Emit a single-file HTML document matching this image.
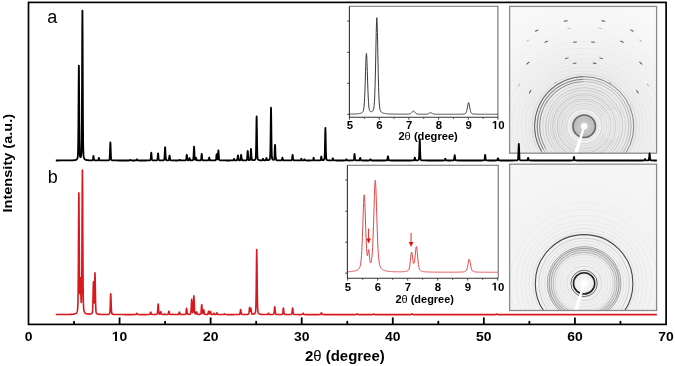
<!DOCTYPE html>
<html><head><meta charset="utf-8"><style>
html,body{margin:0;padding:0;background:#fff;}
body{width:675px;height:366px;overflow:hidden;}
svg{display:block;will-change:transform;font-family:"Liberation Sans",sans-serif;}
.ax{fill:none;stroke:#000;stroke-width:1.7;}
.tk line{stroke:#000;stroke-width:1.8;}
.tl{fill:#000;}
.ifr{fill:none;stroke:#4a4a4a;stroke-width:1;}
.itk{fill:none;stroke:#333;stroke-width:0.9;}
.itl{font-weight:bold;font-size:11.4px;text-anchor:middle;fill:#000;}
</style></head><body>
<svg width="675" height="366" viewBox="0 0 675 366">
<defs>
<radialGradient id="gU" cx="584.2" cy="126.2" r="150" gradientUnits="userSpaceOnUse">
<stop offset="0" stop-color="#e4e4e4"/><stop offset="0.35" stop-color="#ececec"/><stop offset="0.7" stop-color="#f6f6f6"/><stop offset="1" stop-color="#fbfbfb"/>
</radialGradient>
<radialGradient id="gL" cx="584.1" cy="283.4" r="150" gradientUnits="userSpaceOnUse">
<stop offset="0" stop-color="#eeeeee"/><stop offset="0.4" stop-color="#f2f2f2"/><stop offset="1" stop-color="#f7f7f7"/>
</radialGradient>
<radialGradient id="gD" cx="0.5" cy="0.5" r="0.5">
<stop offset="0" stop-color="#fff"/><stop offset="0.2" stop-color="#eaeaea"/><stop offset="0.4" stop-color="#c8c8c8"/><stop offset="1" stop-color="#bababa"/>
</radialGradient>
<radialGradient id="gD2" cx="0.5" cy="0.5" r="0.5">
<stop offset="0" stop-color="#fff"/><stop offset="0.35" stop-color="#f6f6f6"/><stop offset="1" stop-color="#ececec"/>
</radialGradient>
<clipPath id="cU"><rect x="509.6" y="6.4" width="147" height="146.8"/></clipPath>
<clipPath id="cL"><rect x="509.6" y="164.2" width="147" height="146.3"/></clipPath>
</defs>
<rect x="0" y="0" width="675" height="366" fill="#fff"/>
<g clip-path="url(#cU)">
<rect x="509.6" y="6.4" width="147" height="146.8" fill="url(#gU)"/>
<circle cx="584.2" cy="126.2" r="14.8" fill="none" stroke="#3a3a3a" stroke-opacity="0.10" stroke-width="0.8"/>
<circle cx="584.2" cy="126.2" r="17.5" fill="none" stroke="#3a3a3a" stroke-opacity="0.14" stroke-width="0.8"/>
<circle cx="584.2" cy="126.2" r="20.0" fill="none" stroke="#3a3a3a" stroke-opacity="0.10" stroke-width="0.8"/>
<circle cx="584.2" cy="126.2" r="22.5" fill="none" stroke="#3a3a3a" stroke-opacity="0.16" stroke-width="0.8"/>
<circle cx="584.2" cy="126.2" r="25.0" fill="none" stroke="#3a3a3a" stroke-opacity="0.12" stroke-width="0.8"/>
<circle cx="584.2" cy="126.2" r="27.0" fill="none" stroke="#3a3a3a" stroke-opacity="0.22" stroke-width="0.9"/>
<circle cx="584.2" cy="126.2" r="29.5" fill="none" stroke="#3a3a3a" stroke-opacity="0.14" stroke-width="0.8"/>
<circle cx="584.2" cy="126.2" r="31.5" fill="none" stroke="#3a3a3a" stroke-opacity="0.24" stroke-width="0.9"/>
<circle cx="584.2" cy="126.2" r="33.5" fill="none" stroke="#3a3a3a" stroke-opacity="0.14" stroke-width="0.8"/>
<circle cx="584.2" cy="126.2" r="36.0" fill="none" stroke="#3a3a3a" stroke-opacity="0.20" stroke-width="0.8"/>
<circle cx="584.2" cy="126.2" r="38.5" fill="none" stroke="#3a3a3a" stroke-opacity="0.22" stroke-width="0.9"/>
<circle cx="584.2" cy="126.2" r="41.5" fill="none" stroke="#3a3a3a" stroke-opacity="0.16" stroke-width="0.8"/>
<circle cx="584.2" cy="126.2" r="44.6" fill="none" stroke="#3a3a3a" stroke-opacity="0.30" stroke-width="0.8"/>
<circle cx="584.2" cy="126.2" r="47.0" fill="none" stroke="#3a3a3a" stroke-opacity="0.34" stroke-width="0.9"/>
<circle cx="584.2" cy="126.2" r="49.6" fill="none" stroke="#3a3a3a" stroke-opacity="0.60" stroke-width="1.0"/>
<circle cx="584.2" cy="126.2" r="52.3" fill="none" stroke="#3a3a3a" stroke-opacity="0.14" stroke-width="0.8"/>
<circle cx="584.2" cy="126.2" r="55.5" fill="none" stroke="#3a3a3a" stroke-opacity="0.06" stroke-width="0.8"/>
<circle cx="584.2" cy="126.2" r="59.0" fill="none" stroke="#3a3a3a" stroke-opacity="0.05" stroke-width="0.8"/>
<circle cx="584.2" cy="126.2" r="63.0" fill="none" stroke="#3a3a3a" stroke-opacity="0.04" stroke-width="0.8"/>
<circle cx="584.2" cy="126.2" r="67.0" fill="none" stroke="#3a3a3a" stroke-opacity="0.04" stroke-width="0.8"/>
<circle cx="584.2" cy="126.2" r="72.0" fill="none" stroke="#3a3a3a" stroke-opacity="0.04" stroke-width="0.8"/>
<circle cx="584.2" cy="126.2" r="78.0" fill="none" stroke="#3a3a3a" stroke-opacity="0.03" stroke-width="0.8"/>
<circle cx="584.2" cy="126.2" r="85.0" fill="none" stroke="#3a3a3a" stroke-opacity="0.03" stroke-width="0.8"/>
<circle cx="584.2" cy="126.2" r="93.0" fill="none" stroke="#3a3a3a" stroke-opacity="0.03" stroke-width="0.8"/>
<circle cx="584.2" cy="126.2" r="44.6" fill="none" stroke="#222" stroke-opacity="0.35" stroke-width="0.9" stroke-dasharray="92.5 187.8" transform="rotate(150 584.2 126.2)"/>
<circle cx="584.2" cy="126.2" r="47.0" fill="none" stroke="#222" stroke-opacity="0.35" stroke-width="0.9" stroke-dasharray="97.5 197.9" transform="rotate(150 584.2 126.2)"/>
<circle cx="584.2" cy="126.2" r="49.6" fill="none" stroke="#222" stroke-opacity="0.40" stroke-width="0.9" stroke-dasharray="102.8 208.8" transform="rotate(150 584.2 126.2)"/>
<circle cx="584.2" cy="126.2" r="15.5" fill="none" stroke="#fff" stroke-opacity="0.4" stroke-width="3"/>
<circle cx="584.2" cy="126.2" r="11.3" fill="url(#gD)" stroke="#676767" stroke-width="1.5"/>
<ellipse cx="612" cy="125" rx="11" ry="15" fill="#fff" fill-opacity="0.2"/>
<rect x="563.8" y="20.5" width="3.8" height="0.95" rx="0.4" fill="#505050" transform="rotate(-10.0 565.7 21.0)"/>
<rect x="601.5" y="20.5" width="3.8" height="0.95" rx="0.4" fill="#505050" transform="rotate(10.3 603.4 21.0)"/>
<rect x="534.9" y="30.1" width="3.8" height="0.95" rx="0.4" fill="#505050" transform="rotate(-26.4 536.8 30.6)"/>
<rect x="630.0" y="30.1" width="3.8" height="0.95" rx="0.4" fill="#505050" transform="rotate(26.5 631.9 30.6)"/>
<rect x="544.4" y="41.2" width="3.8" height="0.95" rx="0.4" fill="#505050" transform="rotate(-24.2 546.3 41.7)"/>
<rect x="573.1" y="41.6" width="3.8" height="0.95" rx="0.4" fill="#505050" transform="rotate(-6.2 575.0 42.1)"/>
<rect x="591.1" y="41.6" width="3.8" height="0.95" rx="0.4" fill="#505050" transform="rotate(6.0 593.0 42.1)"/>
<rect x="620.0" y="41.2" width="3.8" height="0.95" rx="0.4" fill="#505050" transform="rotate(24.0 621.9 41.7)"/>
<rect x="564.9" y="57.8" width="3.8" height="0.95" rx="0.4" fill="#505050" transform="rotate(-14.4 566.8 58.3)"/>
<rect x="599.3" y="57.8" width="3.8" height="0.95" rx="0.4" fill="#505050" transform="rotate(14.1 601.2 58.3)"/>
<rect x="572.7" y="62.7" width="3.8" height="0.95" rx="0.4" fill="#505050" transform="rotate(-8.7 574.6 63.2)"/>
<rect x="592.7" y="62.7" width="3.8" height="0.95" rx="0.4" fill="#505050" transform="rotate(9.4 594.6 63.2)"/>
<rect x="526.0" y="62.7" width="3.8" height="0.95" rx="0.4" fill="#505050" transform="rotate(-41.8 527.9 63.2)"/>
<rect x="638.9" y="62.7" width="3.8" height="0.95" rx="0.4" fill="#505050" transform="rotate(41.9 640.8 63.2)"/>
<rect x="528.2" y="91.2" width="3.8" height="0.95" rx="0.4" fill="#505050" transform="rotate(-57.5 530.1 91.7)"/>
<rect x="635.5" y="91.2" width="3.8" height="0.95" rx="0.4" fill="#505050" transform="rotate(57.0 637.4 91.7)"/>
<rect x="526.4" y="40.2" width="3" height="0.8" fill="#aaa" transform="rotate(-33.3 527.9 40.6)"/>
<rect x="639.0" y="40.2" width="3" height="0.8" fill="#aaa" transform="rotate(33.3 640.5 40.6)"/>
<rect x="567.5" y="27.9" width="3" height="0.8" fill="#aaa" transform="rotate(-8.8 569.0 28.3)"/>
<rect x="598.5" y="27.9" width="3" height="0.8" fill="#aaa" transform="rotate(9.2 600.0 28.3)"/>
<rect x="517.5" y="84.6" width="3" height="0.8" fill="#aaa" transform="rotate(-57.7 519.0 85.0)"/>
<rect x="646.4" y="84.6" width="3" height="0.8" fill="#aaa" transform="rotate(57.1 647.9 85.0)"/>
<rect x="554.2" y="82.4" width="3" height="0.8" fill="#aaa" transform="rotate(-33.3 555.7 82.8)"/>
<rect x="608.5" y="82.4" width="3" height="0.8" fill="#aaa" transform="rotate(30.7 610.0 82.8)"/>
<path d="M583.2 126.2L585.2 126.2L577.6 154L573.6 154Z" fill="#fff"/>
<circle cx="584.2" cy="126.2" r="2.9" fill="#fff"/>
</g>
<rect x="509.6" y="6.4" width="147" height="146.8" fill="none" stroke="#8a8a8a" stroke-width="1.3"/>
<g clip-path="url(#cL)">
<rect x="509.6" y="164.2" width="147" height="146.3" fill="url(#gL)"/>
<circle cx="584.1" cy="283.4" r="17.3" fill="none" stroke="#333" stroke-opacity="0.14" stroke-width="0.8"/>
<circle cx="584.1" cy="283.4" r="20.5" fill="none" stroke="#333" stroke-opacity="0.06" stroke-width="0.8"/>
<circle cx="584.1" cy="283.4" r="23.5" fill="none" stroke="#333" stroke-opacity="0.08" stroke-width="0.8"/>
<circle cx="584.1" cy="283.4" r="26.5" fill="none" stroke="#333" stroke-opacity="0.07" stroke-width="0.8"/>
<circle cx="584.1" cy="283.4" r="29.0" fill="none" stroke="#333" stroke-opacity="0.16" stroke-width="0.9"/>
<circle cx="584.1" cy="283.4" r="31.0" fill="none" stroke="#333" stroke-opacity="0.28" stroke-width="1.1"/>
<circle cx="584.1" cy="283.4" r="33.0" fill="none" stroke="#333" stroke-opacity="0.34" stroke-width="1.2"/>
<circle cx="584.1" cy="283.4" r="35.0" fill="none" stroke="#333" stroke-opacity="0.42" stroke-width="1.2"/>
<circle cx="584.1" cy="283.4" r="36.8" fill="none" stroke="#333" stroke-opacity="0.40" stroke-width="1.0"/>
<circle cx="584.1" cy="283.4" r="39.5" fill="none" stroke="#333" stroke-opacity="0.10" stroke-width="0.8"/>
<circle cx="584.1" cy="283.4" r="42.5" fill="none" stroke="#333" stroke-opacity="0.10" stroke-width="0.8"/>
<circle cx="584.1" cy="283.4" r="45.3" fill="none" stroke="#333" stroke-opacity="0.24" stroke-width="0.8"/>
<circle cx="584.1" cy="283.4" r="48.8" fill="none" stroke="#333" stroke-opacity="0.90" stroke-width="1.1"/>
<circle cx="584.1" cy="283.4" r="51.5" fill="none" stroke="#333" stroke-opacity="0.10" stroke-width="0.8"/>
<circle cx="584.1" cy="283.4" r="55.0" fill="none" stroke="#333" stroke-opacity="0.07" stroke-width="0.8"/>
<circle cx="584.1" cy="283.4" r="59.0" fill="none" stroke="#333" stroke-opacity="0.06" stroke-width="0.8"/>
<circle cx="584.1" cy="283.4" r="63.0" fill="none" stroke="#333" stroke-opacity="0.05" stroke-width="0.8"/>
<circle cx="584.1" cy="283.4" r="68.0" fill="none" stroke="#333" stroke-opacity="0.05" stroke-width="0.8"/>
<circle cx="584.1" cy="283.4" r="74.0" fill="none" stroke="#333" stroke-opacity="0.04" stroke-width="0.8"/>
<circle cx="584.1" cy="283.4" r="81.0" fill="none" stroke="#333" stroke-opacity="0.04" stroke-width="0.8"/>
<circle cx="584.1" cy="283.4" r="13.2" fill="none" stroke="#333" stroke-opacity="0.7" stroke-width="1.0"/>
<circle cx="584.1" cy="283.4" r="10.6" fill="url(#gD2)" stroke="#222" stroke-width="1.6"/>
<path d="M583.1 283.4L585.1 283.4L577.7 311L573.7 311Z" fill="#fff"/>
<circle cx="584.1" cy="283.4" r="2.7" fill="#fff"/>
</g>
<rect x="509.6" y="164.2" width="147" height="146.3" fill="none" stroke="#8a8a8a" stroke-width="1.3"/>
<path d="M55.82 160.48L56.00 160.48L56.19 160.48L56.37 160.48L56.55 160.48L56.73 160.48L56.91 160.48L57.10 160.48L57.28 160.48L57.46 160.48L57.64 160.48L57.82 160.48L58.01 160.48L58.19 160.48L58.37 160.48L58.55 160.48L58.74 160.48L58.92 160.48L59.10 160.48L59.28 160.48L59.46 160.47L59.65 160.47L59.83 160.47L60.01 160.47L60.19 160.47L60.37 160.47L60.56 160.47L60.74 160.47L60.92 160.47L61.10 160.47L61.29 160.47L61.47 160.47L61.65 160.47L61.83 160.47L62.01 160.47L62.20 160.47L62.38 160.47L62.56 160.47L62.74 160.47L62.92 160.46L63.11 160.46L63.29 160.46L63.47 160.46L63.65 160.46L63.84 160.46L64.02 160.46L64.20 160.46L64.38 160.46L64.56 160.46L64.75 160.46L64.93 160.45L65.11 160.45L65.29 160.45L65.47 160.45L65.66 160.45L65.84 160.45L66.02 160.45L66.20 160.45L66.39 160.45L66.57 160.44L66.75 160.44L66.93 160.44L67.11 160.44L67.30 160.44L67.48 160.44L67.66 160.43L67.84 160.43L68.02 160.43L68.21 160.43L68.39 160.43L68.57 160.42L68.75 160.42L68.94 160.42L69.12 160.42L69.30 160.41L69.48 160.41L69.66 160.41L69.85 160.40L70.03 160.40L70.21 160.40L70.39 160.39L70.57 160.39L70.76 160.38L70.94 160.38L71.12 160.38L71.30 160.37L71.49 160.36L71.67 160.36L71.85 160.35L72.03 160.35L72.21 160.34L72.40 160.33L72.58 160.32L72.76 160.31L72.94 160.30L73.12 160.29L73.31 160.28L73.49 160.27L73.67 160.25L73.85 160.24L74.04 160.22L74.22 160.20L74.40 160.18L74.58 160.16L74.76 160.13L74.95 160.10L75.13 160.07L75.31 160.03L75.49 159.99L75.67 159.94L75.86 159.88L76.04 159.81L76.22 159.73L76.40 159.63L76.58 159.51L76.77 159.35L76.95 159.16L77.13 158.91L77.31 158.57L77.50 158.11L77.68 157.37L77.86 155.86L78.04 152.04L78.22 142.42L78.41 122.90L78.59 94.38L78.77 69.60L78.86 65.60L78.95 69.54L79.13 94.22L79.32 122.62L79.50 142.02L79.68 151.50L79.86 155.17L80.05 156.49L80.23 157.02L80.41 157.22L80.59 157.21L80.77 157.01L80.96 156.60L81.14 155.86L81.32 154.39L81.50 150.78L81.68 141.12L81.87 118.74L82.05 79.63L82.23 33.60L82.41 10.60L82.41 10.60L82.60 33.66L82.78 79.77L82.96 118.96L83.14 141.41L83.32 151.16L83.51 154.88L83.69 156.47L83.87 157.36L84.05 157.97L84.23 158.41L84.42 158.74L84.60 159.00L84.78 159.21L84.96 159.37L85.15 159.50L85.33 159.62L85.51 159.71L85.69 159.79L85.87 159.85L86.06 159.91L86.24 159.96L86.42 160.00L86.60 160.04L86.78 160.08L86.97 160.11L87.15 160.13L87.33 160.16L87.51 160.18L87.70 160.20L87.88 160.21L88.06 160.23L88.24 160.24L88.42 160.26L88.61 160.27L88.79 160.28L88.97 160.29L89.15 160.30L89.33 160.31L89.52 160.31L89.70 160.32L89.88 160.33L90.06 160.33L90.25 160.33L90.43 160.34L90.61 160.34L90.79 160.34L90.97 160.34L91.16 160.34L91.34 160.34L91.52 160.34L91.70 160.33L91.88 160.32L92.07 160.30L92.25 160.27L92.43 160.20L92.61 160.03L92.80 159.58L92.98 158.67L93.16 157.34L93.34 156.18L93.43 156.00L93.52 156.19L93.71 157.35L93.89 158.68L94.07 159.59L94.25 160.05L94.43 160.22L94.62 160.29L94.80 160.33L94.98 160.35L95.16 160.37L95.35 160.38L95.53 160.39L95.71 160.39L95.89 160.40L96.07 160.40L96.26 160.41L96.44 160.41L96.62 160.41L96.80 160.41L96.98 160.40L97.17 160.40L97.35 160.39L97.53 160.38L97.71 160.37L97.90 160.33L98.08 160.23L98.26 159.97L98.44 159.44L98.62 158.67L98.81 158.01L98.90 157.90L98.99 158.01L99.17 158.68L99.35 159.45L99.53 159.98L99.72 160.24L99.90 160.34L100.08 160.38L100.26 160.40L100.45 160.41L100.63 160.42L100.81 160.43L100.99 160.43L101.17 160.44L101.36 160.44L101.54 160.44L101.72 160.44L101.90 160.45L102.08 160.45L102.27 160.45L102.45 160.45L102.63 160.45L102.81 160.45L103.00 160.45L103.18 160.45L103.36 160.45L103.54 160.45L103.72 160.45L103.91 160.45L104.09 160.45L104.27 160.45L104.45 160.45L104.63 160.45L104.82 160.45L105.00 160.45L105.18 160.45L105.36 160.44L105.55 160.44L105.73 160.44L105.91 160.44L106.09 160.43L106.27 160.43L106.46 160.43L106.64 160.42L106.82 160.42L107.00 160.41L107.18 160.40L107.37 160.39L107.55 160.38L107.73 160.37L107.91 160.35L108.10 160.33L108.28 160.30L108.46 160.27L108.64 160.22L108.82 160.16L109.01 160.08L109.19 159.94L109.37 159.66L109.55 158.93L109.73 157.09L109.92 153.36L110.10 147.90L110.28 143.16L110.37 142.40L110.46 143.16L110.65 147.90L110.83 153.36L111.01 157.09L111.19 158.93L111.37 159.66L111.56 159.94L111.74 160.08L111.92 160.17L112.10 160.23L112.28 160.27L112.47 160.31L112.65 160.33L112.83 160.36L113.01 160.37L113.20 160.39L113.38 160.40L113.56 160.41L113.74 160.42L113.92 160.42L114.11 160.43L114.29 160.43L114.47 160.44L114.65 160.44L114.83 160.45L115.02 160.45L115.20 160.45L115.38 160.46L115.56 160.46L115.75 160.46L115.93 160.46L116.11 160.46L116.29 160.47L116.47 160.47L116.66 160.47L116.84 160.47L117.02 160.47L117.20 160.47L117.38 160.47L117.57 160.47L117.75 160.47L117.93 160.48L118.11 160.48L118.30 160.48L118.48 160.48L118.66 160.48L118.84 160.48L119.02 160.48L119.21 160.48L119.39 160.48L119.57 160.48L119.75 160.48L119.93 160.48L120.12 160.48L120.30 160.48L120.48 160.48L120.66 160.48L120.84 160.48L121.03 160.48L121.21 160.48L121.39 160.48L121.57 160.48L121.76 160.48L121.94 160.48L122.12 160.48L122.30 160.48L122.48 160.48L122.67 160.49L122.85 160.49L123.03 160.49L123.21 160.49L123.39 160.49L123.58 160.49L123.76 160.49L123.94 160.49L124.12 160.49L124.31 160.49L124.49 160.49L124.67 160.49L124.85 160.49L125.03 160.49L125.22 160.49L125.40 160.49L125.58 160.49L125.76 160.49L125.94 160.49L126.13 160.49L126.31 160.49L126.49 160.49L126.67 160.49L126.86 160.49L127.04 160.49L127.22 160.49L127.40 160.48L127.58 160.48L127.77 160.48L127.95 160.48L128.13 160.48L128.31 160.48L128.49 160.48L128.68 160.48L128.86 160.47L129.04 160.47L129.22 160.46L129.41 160.43L129.59 160.36L129.77 160.22L129.95 160.01L130.13 159.83L130.23 159.80L130.32 159.83L130.50 160.01L130.68 160.22L130.86 160.36L131.04 160.43L131.23 160.46L131.41 160.47L131.59 160.47L131.77 160.48L131.96 160.48L132.14 160.48L132.32 160.48L132.50 160.48L132.68 160.48L132.87 160.48L133.05 160.48L133.23 160.48L133.41 160.48L133.59 160.48L133.78 160.48L133.96 160.48L134.14 160.48L134.32 160.48L134.51 160.48L134.69 160.48L134.87 160.48L135.05 160.47L135.23 160.47L135.42 160.47L135.60 160.46L135.78 160.45L135.96 160.42L136.14 160.34L136.33 160.16L136.51 159.85L136.69 159.48L136.87 159.30L136.87 159.30L137.06 159.48L137.24 159.85L137.42 160.16L137.60 160.34L137.78 160.42L137.97 160.45L138.15 160.46L138.33 160.47L138.51 160.47L138.69 160.47L138.88 160.48L139.06 160.48L139.24 160.48L139.42 160.48L139.61 160.48L139.79 160.48L139.97 160.48L140.15 160.48L140.33 160.48L140.52 160.48L140.70 160.49L140.88 160.49L141.06 160.49L141.24 160.49L141.43 160.49L141.61 160.49L141.79 160.49L141.97 160.49L142.16 160.49L142.34 160.49L142.52 160.49L142.70 160.49L142.88 160.49L143.07 160.49L143.25 160.48L143.43 160.48L143.61 160.48L143.79 160.48L143.98 160.48L144.16 160.48L144.34 160.48L144.52 160.48L144.71 160.48L144.89 160.48L145.07 160.48L145.25 160.48L145.43 160.48L145.62 160.48L145.80 160.48L145.98 160.48L146.16 160.48L146.34 160.48L146.53 160.47L146.71 160.47L146.89 160.47L147.07 160.47L147.26 160.47L147.44 160.47L147.62 160.46L147.80 160.46L147.98 160.46L148.17 160.45L148.35 160.45L148.53 160.44L148.71 160.44L148.89 160.43L149.08 160.42L149.26 160.40L149.44 160.39L149.62 160.36L149.81 160.33L149.99 160.28L150.17 160.20L150.35 160.01L150.53 159.49L150.72 158.31L150.90 156.24L151.08 153.81L151.26 152.60L151.26 152.60L151.44 153.81L151.63 156.24L151.81 158.31L151.99 159.49L152.17 160.00L152.36 160.20L152.54 160.28L152.72 160.32L152.90 160.35L153.08 160.38L153.27 160.39L153.45 160.40L153.63 160.41L153.81 160.42L153.99 160.42L154.18 160.43L154.36 160.43L154.54 160.43L154.72 160.43L154.91 160.43L155.09 160.43L155.27 160.43L155.45 160.42L155.63 160.42L155.82 160.41L156.00 160.40L156.18 160.39L156.36 160.37L156.54 160.35L156.73 160.31L156.91 160.26L157.09 160.15L157.27 159.86L157.46 159.13L157.64 157.65L157.82 155.48L158.00 153.60L158.09 153.30L158.18 153.60L158.37 155.48L158.55 157.65L158.73 159.13L158.91 159.85L159.09 160.14L159.28 160.25L159.46 160.31L159.64 160.34L159.82 160.36L160.01 160.38L160.19 160.39L160.37 160.40L160.55 160.41L160.73 160.41L160.92 160.41L161.10 160.42L161.28 160.42L161.46 160.42L161.64 160.41L161.83 160.41L162.01 160.41L162.19 160.40L162.37 160.39L162.56 160.38L162.74 160.37L162.92 160.35L163.10 160.33L163.28 160.30L163.47 160.26L163.65 160.21L163.83 160.13L164.01 159.99L164.19 159.66L164.38 158.79L164.56 156.78L164.74 153.28L164.92 149.16L165.10 147.10L165.11 147.10L165.29 149.16L165.47 153.28L165.65 156.78L165.83 158.79L166.02 159.65L166.20 159.98L166.38 160.12L166.56 160.20L166.74 160.25L166.93 160.28L167.11 160.31L167.29 160.33L167.47 160.34L167.65 160.34L167.84 160.34L168.02 160.33L168.20 160.32L168.38 160.29L168.57 160.21L168.75 160.02L168.93 159.52L169.11 158.50L169.29 157.00L169.48 155.71L169.57 155.50L169.66 155.71L169.84 157.01L170.02 158.51L170.20 159.54L170.39 160.04L170.57 160.24L170.75 160.32L170.93 160.36L171.12 160.39L171.30 160.40L171.48 160.42L171.66 160.43L171.84 160.44L172.03 160.44L172.21 160.45L172.39 160.45L172.57 160.46L172.75 160.46L172.94 160.46L173.12 160.46L173.30 160.47L173.48 160.47L173.67 160.47L173.85 160.47L174.03 160.47L174.21 160.47L174.39 160.47L174.58 160.47L174.76 160.47L174.94 160.48L175.12 160.48L175.30 160.48L175.49 160.48L175.67 160.48L175.85 160.48L176.03 160.48L176.22 160.48L176.40 160.48L176.58 160.48L176.76 160.48L176.94 160.48L177.13 160.48L177.31 160.48L177.49 160.47L177.67 160.47L177.85 160.47L178.04 160.47L178.22 160.47L178.40 160.46L178.58 160.46L178.77 160.44L178.95 160.40L179.13 160.29L179.31 160.11L179.49 159.90L179.68 159.80L179.68 159.80L179.86 159.90L180.04 160.11L180.22 160.29L180.40 160.39L180.59 160.44L180.77 160.45L180.95 160.46L181.13 160.46L181.32 160.47L181.50 160.47L181.68 160.47L181.86 160.47L182.04 160.47L182.23 160.47L182.41 160.47L182.59 160.47L182.77 160.46L182.95 160.46L183.14 160.46L183.32 160.46L183.50 160.46L183.68 160.45L183.87 160.45L184.05 160.45L184.23 160.44L184.41 160.43L184.59 160.43L184.78 160.42L184.96 160.40L185.14 160.39L185.32 160.36L185.50 160.33L185.69 160.27L185.87 160.13L186.05 159.76L186.23 158.91L186.42 157.42L186.60 155.67L186.78 154.80L186.78 154.80L186.96 155.67L187.14 157.41L187.33 158.89L187.51 159.74L187.69 160.10L187.87 160.23L188.05 160.28L188.24 160.30L188.42 160.29L188.60 160.25L188.78 160.10L188.97 159.74L189.15 159.11L189.33 158.37L189.51 158.00L189.51 158.00L189.69 158.37L189.88 159.12L190.06 159.76L190.24 160.12L190.42 160.27L190.60 160.33L190.79 160.35L190.97 160.36L191.15 160.36L191.33 160.36L191.52 160.35L191.70 160.34L191.88 160.33L192.06 160.31L192.24 160.28L192.43 160.24L192.61 160.19L192.79 160.11L192.97 159.96L193.15 159.62L193.34 158.71L193.52 156.64L193.70 153.01L193.88 148.74L194.07 146.60L194.07 146.60L194.25 148.73L194.43 152.99L194.61 156.61L194.79 158.67L194.98 159.54L195.16 159.82L195.34 159.80L195.52 159.51L195.70 158.90L195.89 158.16L196.07 157.80L196.07 157.80L196.25 158.21L196.43 159.01L196.62 159.69L196.80 160.08L196.98 160.25L197.16 160.32L197.34 160.35L197.53 160.37L197.71 160.38L197.89 160.39L198.07 160.40L198.25 160.41L198.44 160.41L198.62 160.41L198.80 160.41L198.98 160.41L199.17 160.41L199.35 160.41L199.53 160.40L199.71 160.39L199.89 160.38L200.08 160.36L200.26 160.34L200.44 160.30L200.62 160.23L200.80 160.08L200.99 159.66L201.17 158.68L201.35 156.99L201.53 155.00L201.72 154.00L201.72 154.00L201.90 155.00L202.08 156.99L202.26 158.69L202.44 159.66L202.63 160.08L202.81 160.24L202.99 160.31L203.17 160.35L203.35 160.37L203.54 160.39L203.72 160.41L203.90 160.42L204.08 160.43L204.27 160.43L204.45 160.44L204.63 160.44L204.81 160.45L204.99 160.45L205.18 160.45L205.36 160.45L205.54 160.45L205.72 160.45L205.90 160.45L206.09 160.45L206.27 160.45L206.45 160.45L206.63 160.45L206.82 160.45L207.00 160.45L207.18 160.44L207.36 160.44L207.54 160.43L207.73 160.42L207.91 160.40L208.09 160.37L208.27 160.29L208.45 160.10L208.64 159.65L208.82 158.88L209.00 157.96L209.18 157.50L209.18 157.50L209.37 157.96L209.55 158.87L209.73 159.65L209.91 160.10L210.09 160.29L210.28 160.37L210.46 160.40L210.64 160.41L210.82 160.42L211.00 160.43L211.19 160.44L211.37 160.44L211.55 160.45L211.73 160.45L211.91 160.45L212.10 160.45L212.28 160.45L212.46 160.45L212.64 160.45L212.83 160.45L213.01 160.44L213.19 160.44L213.37 160.44L213.55 160.43L213.74 160.43L213.92 160.42L214.10 160.42L214.28 160.41L214.46 160.40L214.65 160.39L214.83 160.37L215.01 160.35L215.19 160.32L215.38 160.28L215.56 160.21L215.74 160.04L215.92 159.63L216.10 158.68L216.29 157.03L216.47 155.09L216.65 154.10L216.65 154.10L216.83 155.03L217.01 156.90L217.20 158.46L217.38 159.24L217.56 159.24L217.74 158.37L217.93 156.35L218.11 153.34L218.29 150.72L218.38 150.30L218.47 150.73L218.65 153.39L218.84 156.45L219.02 158.55L219.20 159.58L219.38 159.99L219.56 160.15L219.75 160.23L219.93 160.29L220.11 160.32L220.29 160.35L220.48 160.37L220.66 160.39L220.84 160.40L221.02 160.41L221.20 160.42L221.39 160.43L221.57 160.43L221.75 160.44L221.93 160.44L222.11 160.45L222.30 160.45L222.48 160.45L222.66 160.45L222.84 160.46L223.03 160.46L223.21 160.46L223.39 160.45L223.57 160.44L223.75 160.42L223.94 160.38L224.12 160.33L224.30 160.30L224.30 160.30L224.48 160.33L224.66 160.38L224.85 160.43L225.03 160.45L225.21 160.46L225.39 160.47L225.58 160.47L225.76 160.47L225.94 160.47L226.12 160.47L226.30 160.48L226.49 160.48L226.67 160.48L226.85 160.48L227.03 160.48L227.21 160.48L227.40 160.48L227.58 160.48L227.76 160.48L227.94 160.48L228.13 160.48L228.31 160.48L228.49 160.48L228.67 160.48L228.85 160.48L229.04 160.48L229.22 160.48L229.40 160.48L229.58 160.48L229.76 160.48L229.95 160.47L230.13 160.47L230.31 160.47L230.49 160.47L230.68 160.47L230.86 160.47L231.04 160.47L231.22 160.47L231.40 160.47L231.59 160.46L231.77 160.46L231.95 160.46L232.13 160.46L232.31 160.45L232.50 160.44L232.68 160.44L232.86 160.42L233.04 160.40L233.23 160.33L233.41 160.16L233.59 159.81L233.77 159.31L233.95 158.87L234.04 158.80L234.14 158.87L234.32 159.30L234.50 159.80L234.68 160.14L234.86 160.31L235.05 160.37L235.23 160.40L235.41 160.40L235.59 160.41L235.78 160.40L235.96 160.40L236.14 160.39L236.32 160.38L236.50 160.36L236.69 160.33L236.87 160.27L237.05 160.14L237.23 159.81L237.41 159.03L237.60 157.68L237.78 156.10L237.96 155.30L237.96 155.30L238.14 156.09L238.33 157.67L238.51 159.02L238.69 159.78L238.87 160.11L239.05 160.23L239.24 160.28L239.42 160.29L239.60 160.29L239.78 160.28L239.96 160.25L240.15 160.17L240.33 159.95L240.51 159.38L240.69 158.22L240.88 156.51L241.06 155.04L241.15 154.80L241.24 155.04L241.42 156.52L241.60 158.22L241.79 159.39L241.97 159.96L242.15 160.19L242.33 160.28L242.51 160.32L242.70 160.35L242.88 160.37L243.06 160.38L243.24 160.39L243.43 160.39L243.61 160.40L243.79 160.40L243.97 160.40L244.15 160.40L244.34 160.40L244.52 160.40L244.70 160.39L244.88 160.39L245.06 160.38L245.25 160.37L245.43 160.36L245.61 160.35L245.79 160.33L245.98 160.30L246.16 160.27L246.34 160.22L246.52 160.15L246.70 160.00L246.89 159.61L247.07 158.64L247.25 156.68L247.43 153.80L247.61 151.30L247.71 150.90L247.80 151.30L247.98 153.78L248.16 156.65L248.34 158.60L248.53 159.55L248.71 159.92L248.89 160.05L249.07 160.10L249.25 160.12L249.44 160.11L249.62 160.08L249.80 160.01L249.98 159.84L250.16 159.39L250.35 158.24L250.53 155.89L250.71 152.46L250.89 149.48L250.98 149.00L251.08 149.48L251.26 152.46L251.44 155.90L251.62 158.24L251.80 159.40L251.99 159.85L252.17 160.02L252.35 160.10L252.53 160.15L252.71 160.18L252.90 160.19L253.08 160.20L253.26 160.20L253.44 160.20L253.63 160.18L253.81 160.17L253.99 160.14L254.17 160.10L254.35 160.06L254.54 160.00L254.72 159.92L254.90 159.81L255.08 159.67L255.26 159.46L255.45 159.13L255.63 158.44L255.81 156.67L255.99 152.21L256.18 143.13L256.36 129.87L256.54 118.35L256.63 116.50L256.72 118.35L256.90 129.87L257.09 143.14L257.27 152.21L257.45 156.68L257.63 158.45L257.81 159.14L258.00 159.48L258.18 159.68L258.36 159.83L258.54 159.94L258.72 160.02L258.91 160.09L259.09 160.14L259.27 160.18L259.45 160.21L259.64 160.24L259.82 160.26L260.00 160.28L260.18 160.30L260.36 160.31L260.55 160.32L260.73 160.33L260.91 160.34L261.09 160.34L261.27 160.34L261.46 160.34L261.64 160.34L261.82 160.33L262.00 160.31L262.19 160.25L262.37 160.09L262.55 159.76L262.73 159.28L262.91 158.87L263.01 158.80L263.10 158.87L263.28 159.28L263.46 159.76L263.64 160.09L263.82 160.25L264.01 160.31L264.19 160.33L264.37 160.34L264.55 160.34L264.74 160.34L264.92 160.34L265.10 160.33L265.28 160.31L265.46 160.29L265.65 160.23L265.83 160.07L266.01 159.71L266.19 159.10L266.37 158.37L266.56 158.00L266.56 158.00L266.74 158.35L266.92 159.06L267.10 159.66L267.29 160.00L267.47 160.13L267.65 160.17L267.83 160.17L268.01 160.16L268.20 160.13L268.38 160.10L268.56 160.05L268.74 159.99L268.92 159.92L269.11 159.82L269.29 159.69L269.47 159.51L269.65 159.26L269.84 158.86L270.02 158.04L270.20 155.91L270.38 150.55L270.56 139.66L270.75 123.75L270.93 109.92L271.02 107.70L271.11 109.92L271.29 123.74L271.47 139.65L271.66 150.53L271.84 155.88L272.02 158.00L272.20 158.81L272.39 159.20L272.57 159.44L272.75 159.60L272.93 159.71L273.11 159.78L273.30 159.82L273.48 159.83L273.66 159.81L273.84 159.73L274.02 159.52L274.21 158.93L274.39 157.38L274.57 154.22L274.75 149.57L274.94 145.54L275.03 144.90L275.12 145.56L275.30 149.61L275.48 154.28L275.66 157.48L275.85 159.06L276.03 159.69L276.21 159.93L276.39 160.06L276.57 160.14L276.76 160.19L276.94 160.24L277.12 160.27L277.30 160.29L277.49 160.32L277.67 160.33L277.85 160.35L278.03 160.36L278.21 160.37L278.40 160.38L278.58 160.39L278.76 160.39L278.94 160.40L279.12 160.40L279.31 160.41L279.49 160.41L279.67 160.41L279.85 160.41L280.04 160.41L280.22 160.41L280.40 160.41L280.58 160.41L280.76 160.40L280.95 160.39L281.13 160.38L281.31 160.35L281.49 160.28L281.67 160.11L281.86 159.69L282.04 158.97L282.22 158.12L282.40 157.70L282.40 157.70L282.59 158.13L282.77 158.98L282.95 159.70L283.13 160.12L283.31 160.30L283.50 160.37L283.68 160.40L283.86 160.41L284.04 160.42L284.22 160.43L284.41 160.44L284.59 160.44L284.77 160.45L284.95 160.45L285.14 160.45L285.32 160.46L285.50 160.46L285.68 160.46L285.86 160.46L286.05 160.46L286.23 160.46L286.41 160.46L286.59 160.46L286.77 160.47L286.96 160.47L287.14 160.47L287.32 160.47L287.50 160.47L287.69 160.47L287.87 160.47L288.05 160.47L288.23 160.46L288.41 160.46L288.60 160.46L288.78 160.46L288.96 160.46L289.14 160.46L289.32 160.46L289.51 160.45L289.69 160.45L289.87 160.45L290.05 160.44L290.24 160.44L290.42 160.43L290.60 160.42L290.78 160.41L290.96 160.39L291.15 160.37L291.33 160.34L291.51 160.28L291.69 160.14L291.87 159.77L292.06 158.91L292.24 157.43L292.42 155.68L292.60 154.80L292.60 154.80L292.79 155.68L292.97 157.43L293.15 158.92L293.33 159.77L293.51 160.14L293.70 160.28L293.88 160.34L294.06 160.37L294.24 160.40L294.42 160.41L294.61 160.42L294.79 160.43L294.97 160.44L295.15 160.45L295.34 160.45L295.52 160.46L295.70 160.46L295.88 160.46L296.06 160.46L296.25 160.47L296.43 160.47L296.61 160.47L296.79 160.47L296.97 160.47L297.16 160.47L297.34 160.47L297.52 160.47L297.70 160.47L297.89 160.47L298.07 160.47L298.25 160.47L298.43 160.47L298.61 160.47L298.80 160.47L298.98 160.47L299.16 160.47L299.34 160.46L299.52 160.46L299.71 160.46L299.89 160.45L300.07 160.44L300.25 160.42L300.44 160.38L300.62 160.27L300.80 160.02L300.98 159.58L301.16 159.06L301.35 158.80L301.35 158.80L301.53 159.06L301.71 159.58L301.89 160.01L302.07 160.27L302.26 160.37L302.44 160.41L302.62 160.43L302.80 160.44L302.98 160.44L303.17 160.44L303.35 160.43L303.53 160.40L303.71 160.33L303.90 160.15L304.08 159.84L304.26 159.48L304.44 159.30L304.44 159.30L304.62 159.48L304.81 159.85L304.99 160.16L305.17 160.33L305.35 160.41L305.53 160.44L305.72 160.45L305.90 160.46L306.08 160.46L306.26 160.47L306.45 160.47L306.63 160.47L306.81 160.47L306.99 160.48L307.17 160.48L307.36 160.48L307.54 160.48L307.72 160.48L307.90 160.48L308.08 160.48L308.27 160.48L308.45 160.48L308.63 160.48L308.81 160.48L309.00 160.48L309.18 160.48L309.36 160.48L309.54 160.48L309.72 160.48L309.91 160.48L310.09 160.47L310.27 160.47L310.45 160.47L310.63 160.47L310.82 160.47L311.00 160.47L311.18 160.46L311.36 160.46L311.55 160.46L311.73 160.45L311.91 160.45L312.09 160.44L312.27 160.42L312.46 160.40L312.64 160.36L312.82 160.25L313.00 159.98L313.18 159.43L313.37 158.62L313.55 157.91L313.64 157.80L313.73 157.91L313.91 158.61L314.10 159.42L314.28 159.98L314.46 160.25L314.64 160.36L314.82 160.40L315.01 160.42L315.19 160.43L315.37 160.44L315.55 160.44L315.73 160.45L315.92 160.45L316.10 160.45L316.28 160.45L316.46 160.45L316.65 160.45L316.83 160.45L317.01 160.45L317.19 160.45L317.37 160.45L317.56 160.45L317.74 160.45L317.92 160.45L318.10 160.44L318.28 160.44L318.47 160.44L318.65 160.43L318.83 160.43L319.01 160.42L319.20 160.41L319.38 160.41L319.56 160.39L319.74 160.38L319.92 160.36L320.11 160.32L320.29 160.26L320.47 160.10L320.65 159.70L320.83 158.88L321.02 157.70L321.20 156.67L321.29 156.50L321.38 156.66L321.56 157.68L321.75 158.84L321.93 159.64L322.11 160.02L322.29 160.16L322.47 160.21L322.66 160.21L322.84 160.20L323.02 160.18L323.20 160.15L323.38 160.10L323.57 160.04L323.75 159.95L323.93 159.82L324.11 159.64L324.30 159.29L324.48 158.49L324.66 156.37L324.84 151.48L325.02 142.95L325.21 132.92L325.39 127.90L325.39 127.90L325.57 132.92L325.75 142.96L325.93 151.49L326.12 156.38L326.30 158.50L326.48 159.31L326.66 159.65L326.85 159.84L327.03 159.97L327.21 160.07L327.39 160.14L327.57 160.19L327.76 160.23L327.94 160.27L328.12 160.30L328.30 160.32L328.48 160.34L328.67 160.35L328.85 160.37L329.03 160.38L329.21 160.39L329.40 160.39L329.58 160.40L329.76 160.41L329.94 160.41L330.12 160.42L330.31 160.42L330.49 160.42L330.67 160.42L330.85 160.42L331.03 160.42L331.22 160.41L331.40 160.41L331.58 160.39L331.76 160.36L331.95 160.27L332.13 160.06L332.31 159.61L332.49 158.96L332.67 158.39L332.76 158.30L332.86 158.39L333.04 158.96L333.22 159.62L333.40 160.07L333.58 160.29L333.77 160.38L333.95 160.41L334.13 160.43L334.31 160.44L334.50 160.45L334.68 160.45L334.86 160.46L335.04 160.46L335.22 160.46L335.41 160.47L335.59 160.47L335.77 160.47L335.95 160.47L336.13 160.47L336.32 160.48L336.50 160.48L336.68 160.48L336.86 160.48L337.05 160.48L337.23 160.48L337.41 160.48L337.59 160.48L337.77 160.48L337.96 160.48L338.14 160.48L338.32 160.48L338.50 160.48L338.68 160.48L338.87 160.48L339.05 160.48L339.23 160.48L339.41 160.48L339.60 160.49L339.78 160.49L339.96 160.49L340.14 160.49L340.32 160.49L340.51 160.49L340.69 160.49L340.87 160.49L341.05 160.49L341.23 160.49L341.42 160.49L341.60 160.49L341.78 160.49L341.96 160.49L342.15 160.49L342.33 160.49L342.51 160.49L342.69 160.49L342.87 160.48L343.06 160.48L343.24 160.48L343.42 160.48L343.60 160.48L343.78 160.48L343.97 160.48L344.15 160.48L344.33 160.48L344.51 160.47L344.70 160.47L344.88 160.47L345.06 160.46L345.24 160.45L345.42 160.42L345.61 160.34L345.79 160.16L345.97 159.85L346.15 159.48L346.33 159.30L346.33 159.30L346.52 159.48L346.70 159.85L346.88 160.16L347.06 160.34L347.25 160.42L347.43 160.44L347.61 160.46L347.79 160.46L347.97 160.47L348.16 160.47L348.34 160.47L348.52 160.47L348.70 160.48L348.88 160.48L349.07 160.48L349.25 160.48L349.43 160.48L349.61 160.48L349.79 160.48L349.98 160.48L350.16 160.48L350.34 160.47L350.52 160.47L350.71 160.47L350.89 160.47L351.07 160.47L351.25 160.46L351.43 160.46L351.62 160.46L351.80 160.45L351.98 160.45L352.16 160.44L352.34 160.43L352.53 160.42L352.71 160.41L352.89 160.39L353.07 160.36L353.26 160.33L353.44 160.26L353.62 160.10L353.80 159.67L353.98 158.70L354.17 157.00L354.35 155.00L354.53 154.00L354.53 154.00L354.71 155.00L354.89 157.00L355.08 158.70L355.26 159.67L355.44 160.09L355.62 160.25L355.81 160.32L355.99 160.36L356.17 160.39L356.35 160.40L356.53 160.42L356.72 160.43L356.90 160.43L357.08 160.44L357.26 160.44L357.44 160.45L357.63 160.45L357.81 160.45L357.99 160.45L358.17 160.45L358.36 160.44L358.54 160.44L358.72 160.43L358.90 160.41L359.08 160.39L359.27 160.33L359.45 160.16L359.63 159.77L359.81 159.09L359.99 158.30L360.18 157.90L360.18 157.90L360.36 158.30L360.54 159.10L360.72 159.77L360.91 160.16L361.09 160.33L361.27 160.40L361.45 160.42L361.63 160.44L361.82 160.45L362.00 160.46L362.18 160.46L362.36 160.47L362.54 160.47L362.73 160.47L362.91 160.48L363.09 160.48L363.27 160.48L363.46 160.48L363.64 160.48L363.82 160.48L364.00 160.48L364.18 160.49L364.37 160.49L364.55 160.49L364.73 160.49L364.91 160.49L365.09 160.49L365.28 160.49L365.46 160.49L365.64 160.49L365.82 160.49L366.01 160.49L366.19 160.49L366.37 160.49L366.55 160.49L366.73 160.49L366.92 160.49L367.10 160.49L367.28 160.49L367.46 160.49L367.64 160.49L367.83 160.49L368.01 160.48L368.19 160.48L368.37 160.48L368.56 160.48L368.74 160.48L368.92 160.47L369.10 160.47L369.28 160.46L369.47 160.44L369.65 160.39L369.83 160.27L370.01 160.02L370.19 159.66L370.38 159.35L370.47 159.30L370.56 159.35L370.74 159.66L370.92 160.02L371.11 160.27L371.29 160.39L371.47 160.44L371.65 160.46L371.83 160.47L372.02 160.47L372.20 160.48L372.38 160.48L372.56 160.48L372.74 160.49L372.93 160.49L373.11 160.49L373.29 160.49L373.47 160.49L373.66 160.49L373.84 160.49L374.02 160.49L374.20 160.49L374.38 160.49L374.57 160.49L374.75 160.49L374.93 160.49L375.11 160.49L375.29 160.49L375.48 160.49L375.66 160.49L375.84 160.49L376.02 160.49L376.21 160.49L376.39 160.49L376.57 160.49L376.75 160.49L376.93 160.49L377.12 160.49L377.30 160.49L377.48 160.49L377.66 160.49L377.84 160.49L378.03 160.49L378.21 160.49L378.39 160.49L378.57 160.49L378.76 160.49L378.94 160.49L379.12 160.49L379.30 160.49L379.48 160.49L379.67 160.49L379.85 160.49L380.03 160.49L380.21 160.49L380.39 160.49L380.58 160.49L380.76 160.49L380.94 160.49L381.12 160.49L381.31 160.49L381.49 160.49L381.67 160.49L381.85 160.49L382.03 160.49L382.22 160.49L382.40 160.49L382.58 160.49L382.76 160.49L382.94 160.49L383.13 160.49L383.31 160.49L383.49 160.49L383.67 160.49L383.86 160.49L384.04 160.48L384.22 160.48L384.40 160.48L384.58 160.48L384.77 160.48L384.95 160.48L385.13 160.47L385.31 160.47L385.49 160.47L385.68 160.46L385.86 160.45L386.04 160.45L386.22 160.44L386.41 160.42L386.59 160.40L386.77 160.37L386.95 160.30L387.13 160.13L387.32 159.69L387.50 158.80L387.68 157.51L387.86 156.38L387.95 156.20L388.04 156.38L388.23 157.51L388.41 158.80L388.59 159.69L388.77 160.13L388.96 160.30L389.14 160.37L389.32 160.40L389.50 160.42L389.68 160.44L389.87 160.45L390.05 160.45L390.23 160.46L390.41 160.47L390.59 160.47L390.78 160.47L390.96 160.48L391.14 160.48L391.32 160.48L391.51 160.48L391.69 160.48L391.87 160.48L392.05 160.49L392.23 160.49L392.42 160.49L392.60 160.49L392.78 160.49L392.96 160.49L393.14 160.49L393.33 160.49L393.51 160.49L393.69 160.49L393.87 160.49L394.05 160.49L394.24 160.49L394.42 160.49L394.60 160.49L394.78 160.49L394.97 160.49L395.15 160.49L395.33 160.49L395.51 160.49L395.69 160.49L395.88 160.49L396.06 160.49L396.24 160.49L396.42 160.49L396.60 160.49L396.79 160.49L396.97 160.49L397.15 160.49L397.33 160.49L397.52 160.49L397.70 160.49L397.88 160.49L398.06 160.49L398.24 160.49L398.43 160.49L398.61 160.49L398.79 160.49L398.97 160.49L399.15 160.49L399.34 160.49L399.52 160.49L399.70 160.49L399.88 160.49L400.07 160.49L400.25 160.49L400.43 160.49L400.61 160.49L400.79 160.49L400.98 160.49L401.16 160.49L401.34 160.49L401.52 160.49L401.70 160.49L401.89 160.49L402.07 160.49L402.25 160.49L402.43 160.49L402.62 160.49L402.80 160.49L402.98 160.49L403.16 160.49L403.34 160.49L403.53 160.49L403.71 160.49L403.89 160.49L404.07 160.49L404.25 160.49L404.44 160.49L404.62 160.49L404.80 160.49L404.98 160.49L405.17 160.49L405.35 160.49L405.53 160.49L405.71 160.49L405.89 160.49L406.08 160.49L406.26 160.49L406.44 160.49L406.62 160.49L406.80 160.49L406.99 160.49L407.17 160.49L407.35 160.49L407.53 160.49L407.72 160.49L407.90 160.49L408.08 160.49L408.26 160.49L408.44 160.49L408.63 160.49L408.81 160.49L408.99 160.49L409.17 160.49L409.35 160.49L409.54 160.48L409.72 160.48L409.90 160.48L410.08 160.48L410.27 160.48L410.45 160.48L410.63 160.48L410.81 160.48L410.99 160.48L411.18 160.48L411.36 160.47L411.54 160.47L411.72 160.47L411.90 160.47L412.09 160.46L412.27 160.46L412.45 160.46L412.63 160.45L412.82 160.45L413.00 160.44L413.18 160.43L413.36 160.42L413.54 160.40L413.73 160.36L413.91 160.29L414.09 160.10L414.27 159.65L414.45 158.87L414.64 157.96L414.82 157.50L414.82 157.50L415.00 157.95L415.18 158.86L415.37 159.63L415.55 160.07L415.73 160.26L415.91 160.33L416.09 160.35L416.28 160.36L416.46 160.36L416.64 160.36L416.82 160.36L417.00 160.35L417.19 160.33L417.37 160.31L417.55 160.29L417.73 160.25L417.92 160.21L418.10 160.15L418.28 160.07L418.46 159.94L418.64 159.72L418.83 159.20L419.01 157.82L419.19 154.64L419.37 149.09L419.55 142.56L419.74 139.30L419.74 139.30L419.92 142.56L420.10 149.09L420.28 154.64L420.47 157.82L420.65 159.20L420.83 159.73L421.01 159.95L421.19 160.08L421.38 160.16L421.56 160.22L421.74 160.27L421.92 160.30L422.10 160.33L422.29 160.35L422.47 160.37L422.65 160.39L422.83 160.40L423.02 160.41L423.20 160.42L423.38 160.43L423.56 160.43L423.74 160.44L423.93 160.44L424.11 160.45L424.29 160.45L424.47 160.45L424.65 160.46L424.84 160.46L425.02 160.46L425.20 160.47L425.38 160.47L425.57 160.47L425.75 160.47L425.93 160.47L426.11 160.47L426.29 160.48L426.48 160.48L426.66 160.48L426.84 160.48L427.02 160.48L427.20 160.48L427.39 160.48L427.57 160.48L427.75 160.48L427.93 160.48L428.12 160.48L428.30 160.48L428.48 160.49L428.66 160.49L428.84 160.49L429.03 160.49L429.21 160.49L429.39 160.49L429.57 160.49L429.75 160.49L429.94 160.49L430.12 160.49L430.30 160.49L430.48 160.49L430.67 160.49L430.85 160.49L431.03 160.49L431.21 160.49L431.39 160.49L431.58 160.49L431.76 160.49L431.94 160.49L432.12 160.49L432.30 160.49L432.49 160.49L432.67 160.49L432.85 160.49L433.03 160.49L433.22 160.49L433.40 160.49L433.58 160.49L433.76 160.49L433.94 160.49L434.13 160.49L434.31 160.49L434.49 160.49L434.67 160.49L434.85 160.49L435.04 160.49L435.22 160.49L435.40 160.49L435.58 160.49L435.77 160.49L435.95 160.49L436.13 160.49L436.31 160.49L436.49 160.49L436.68 160.49L436.86 160.49L437.04 160.49L437.22 160.49L437.40 160.49L437.59 160.49L437.77 160.49L437.95 160.49L438.13 160.49L438.32 160.49L438.50 160.49L438.68 160.49L438.86 160.49L439.04 160.49L439.23 160.49L439.41 160.49L439.59 160.49L439.77 160.49L439.95 160.49L440.14 160.49L440.32 160.49L440.50 160.49L440.68 160.49L440.86 160.49L441.05 160.49L441.23 160.49L441.41 160.49L441.59 160.49L441.78 160.49L441.96 160.49L442.14 160.49L442.32 160.49L442.50 160.49L442.69 160.48L442.87 160.48L443.05 160.48L443.23 160.48L443.41 160.47L443.60 160.47L443.78 160.46L443.96 160.45L444.14 160.44L444.33 160.41L444.51 160.34L444.69 160.16L444.87 159.79L445.05 159.25L445.24 158.78L445.33 158.70L445.42 158.78L445.60 159.25L445.78 159.79L445.96 160.16L446.15 160.34L446.33 160.41L446.51 160.44L446.69 160.45L446.88 160.46L447.06 160.47L447.24 160.47L447.42 160.48L447.60 160.48L447.79 160.48L447.97 160.48L448.15 160.48L448.33 160.48L448.51 160.48L448.70 160.48L448.88 160.48L449.06 160.48L449.24 160.48L449.43 160.48L449.61 160.48L449.79 160.48L449.97 160.48L450.15 160.48L450.34 160.48L450.52 160.48L450.70 160.48L450.88 160.48L451.06 160.48L451.25 160.48L451.43 160.47L451.61 160.47L451.79 160.47L451.98 160.46L452.16 160.46L452.34 160.45L452.52 160.45L452.70 160.44L452.89 160.43L453.07 160.41L453.25 160.39L453.43 160.36L453.61 160.30L453.80 160.17L453.98 159.83L454.16 159.03L454.34 157.65L454.53 156.02L454.71 155.20L454.71 155.20L454.89 156.02L455.07 157.65L455.25 159.03L455.44 159.83L455.62 160.17L455.80 160.31L455.98 160.36L456.16 160.39L456.35 160.41L456.53 160.43L456.71 160.44L456.89 160.45L457.08 160.46L457.26 160.46L457.44 160.47L457.62 160.47L457.80 160.47L457.99 160.48L458.17 160.48L458.35 160.48L458.53 160.48L458.71 160.48L458.90 160.48L459.08 160.49L459.26 160.49L459.44 160.49L459.63 160.49L459.81 160.49L459.99 160.49L460.17 160.49L460.35 160.49L460.54 160.49L460.72 160.49L460.90 160.49L461.08 160.49L461.26 160.49L461.45 160.49L461.63 160.49L461.81 160.49L461.99 160.49L462.18 160.49L462.36 160.49L462.54 160.49L462.72 160.49L462.90 160.49L463.09 160.49L463.27 160.49L463.45 160.49L463.63 160.49L463.81 160.49L464.00 160.50L464.18 160.50L464.36 160.50L464.54 160.50L464.73 160.50L464.91 160.50L465.09 160.50L465.27 160.50L465.45 160.50L465.64 160.50L465.82 160.50L466.00 160.50L466.18 160.50L466.36 160.50L466.55 160.50L466.73 160.50L466.91 160.50L467.09 160.50L467.28 160.50L467.46 160.50L467.64 160.50L467.82 160.50L468.00 160.50L468.19 160.50L468.37 160.50L468.55 160.50L468.73 160.50L468.91 160.50L469.10 160.50L469.28 160.50L469.46 160.50L469.64 160.50L469.83 160.50L470.01 160.50L470.19 160.50L470.37 160.50L470.55 160.50L470.74 160.50L470.92 160.50L471.10 160.50L471.28 160.50L471.46 160.50L471.65 160.50L471.83 160.50L472.01 160.50L472.19 160.50L472.38 160.50L472.56 160.50L472.74 160.50L472.92 160.50L473.10 160.50L473.29 160.50L473.47 160.50L473.65 160.50L473.83 160.50L474.01 160.50L474.20 160.50L474.38 160.50L474.56 160.50L474.74 160.50L474.93 160.50L475.11 160.50L475.29 160.50L475.47 160.50L475.65 160.50L475.84 160.50L476.02 160.49L476.20 160.49L476.38 160.49L476.56 160.49L476.75 160.49L476.93 160.49L477.11 160.49L477.29 160.49L477.48 160.49L477.66 160.49L477.84 160.49L478.02 160.49L478.20 160.49L478.39 160.49L478.57 160.49L478.75 160.49L478.93 160.49L479.11 160.49L479.30 160.49L479.48 160.49L479.66 160.49L479.84 160.49L480.03 160.49L480.21 160.49L480.39 160.49L480.57 160.49L480.75 160.49L480.94 160.48L481.12 160.48L481.30 160.48L481.48 160.48L481.66 160.48L481.85 160.48L482.03 160.47L482.21 160.47L482.39 160.47L482.58 160.46L482.76 160.45L482.94 160.45L483.12 160.44L483.30 160.43L483.49 160.41L483.67 160.39L483.85 160.36L484.03 160.30L484.21 160.16L484.40 159.80L484.58 158.98L484.76 157.54L484.94 155.85L485.12 155.00L485.12 155.00L485.31 155.85L485.49 157.54L485.67 158.98L485.85 159.80L486.04 160.16L486.22 160.30L486.40 160.36L486.58 160.39L486.76 160.41L486.95 160.43L487.13 160.44L487.31 160.45L487.49 160.45L487.67 160.46L487.86 160.46L488.04 160.47L488.22 160.47L488.40 160.47L488.59 160.48L488.77 160.48L488.95 160.48L489.13 160.48L489.31 160.48L489.50 160.48L489.68 160.48L489.86 160.49L490.04 160.49L490.22 160.49L490.41 160.49L490.59 160.49L490.77 160.49L490.95 160.49L491.14 160.49L491.32 160.49L491.50 160.49L491.68 160.49L491.86 160.49L492.05 160.49L492.23 160.49L492.41 160.49L492.59 160.49L492.77 160.49L492.96 160.49L493.14 160.49L493.32 160.49L493.50 160.49L493.69 160.49L493.87 160.49L494.05 160.49L494.23 160.49L494.41 160.49L494.60 160.49L494.78 160.49L494.96 160.48L495.14 160.48L495.32 160.48L495.51 160.48L495.69 160.48L495.87 160.47L496.05 160.47L496.24 160.46L496.42 160.46L496.60 160.45L496.78 160.43L496.96 160.40L497.15 160.31L497.33 160.08L497.51 159.63L497.69 158.97L497.87 158.39L497.97 158.30L498.06 158.39L498.24 158.97L498.42 159.63L498.60 160.08L498.79 160.31L498.97 160.40L499.15 160.43L499.33 160.45L499.51 160.46L499.70 160.46L499.88 160.47L500.06 160.47L500.24 160.48L500.42 160.48L500.61 160.48L500.79 160.48L500.97 160.49L501.15 160.49L501.34 160.49L501.52 160.49L501.70 160.49L501.88 160.49L502.06 160.49L502.25 160.49L502.43 160.49L502.61 160.49L502.79 160.49L502.97 160.49L503.16 160.49L503.34 160.49L503.52 160.49L503.70 160.49L503.89 160.49L504.07 160.49L504.25 160.49L504.43 160.49L504.61 160.49L504.80 160.49L504.98 160.49L505.16 160.49L505.34 160.49L505.52 160.49L505.71 160.49L505.89 160.49L506.07 160.49L506.25 160.49L506.44 160.49L506.62 160.49L506.80 160.49L506.98 160.49L507.16 160.49L507.35 160.49L507.53 160.49L507.71 160.49L507.89 160.49L508.07 160.49L508.26 160.49L508.44 160.49L508.62 160.49L508.80 160.49L508.99 160.49L509.17 160.49L509.35 160.49L509.53 160.49L509.71 160.49L509.90 160.49L510.08 160.49L510.26 160.49L510.44 160.49L510.62 160.49L510.81 160.49L510.99 160.49L511.17 160.49L511.35 160.48L511.54 160.48L511.72 160.48L511.90 160.48L512.08 160.48L512.26 160.48L512.45 160.48L512.63 160.48L512.81 160.48L512.99 160.48L513.17 160.47L513.36 160.47L513.54 160.47L513.72 160.47L513.90 160.47L514.09 160.47L514.27 160.46L514.45 160.46L514.63 160.46L514.81 160.45L515.00 160.45L515.18 160.44L515.36 160.44L515.54 160.43L515.72 160.42L515.91 160.41L516.09 160.40L516.27 160.39L516.45 160.37L516.64 160.35L516.82 160.32L517.00 160.28L517.18 160.23L517.36 160.17L517.55 160.07L517.73 159.90L517.91 159.49L518.09 158.41L518.27 155.92L518.46 151.57L518.64 146.46L518.82 143.90L518.82 143.90L519.00 146.46L519.19 151.57L519.37 155.92L519.55 158.40L519.73 159.49L519.91 159.90L520.10 160.07L520.28 160.17L520.46 160.23L520.64 160.28L520.82 160.32L521.01 160.35L521.19 160.37L521.37 160.38L521.55 160.40L521.74 160.41L521.92 160.42L522.10 160.43L522.28 160.43L522.46 160.44L522.65 160.44L522.83 160.45L523.01 160.45L523.19 160.46L523.37 160.46L523.56 160.46L523.74 160.46L523.92 160.46L524.10 160.47L524.29 160.47L524.47 160.47L524.65 160.47L524.83 160.47L525.01 160.47L525.20 160.47L525.38 160.47L525.56 160.47L525.74 160.46L525.92 160.46L526.11 160.46L526.29 160.45L526.47 160.45L526.65 160.44L526.84 160.42L527.02 160.39L527.20 160.33L527.38 160.16L527.56 159.77L527.75 159.10L527.93 158.30L528.11 157.90L528.11 157.90L528.29 158.30L528.47 159.10L528.66 159.78L528.84 160.17L529.02 160.33L529.20 160.40L529.39 160.43L529.57 160.44L529.75 160.45L529.93 160.46L530.11 160.47L530.30 160.47L530.48 160.47L530.66 160.48L530.84 160.48L531.02 160.48L531.21 160.48L531.39 160.48L531.57 160.49L531.75 160.49L531.93 160.49L532.12 160.49L532.30 160.49L532.48 160.49L532.66 160.49L532.85 160.49L533.03 160.49L533.21 160.49L533.39 160.49L533.57 160.49L533.76 160.49L533.94 160.49L534.12 160.49L534.30 160.49L534.48 160.49L534.67 160.49L534.85 160.49L535.03 160.49L535.21 160.49L535.40 160.49L535.58 160.49L535.76 160.49L535.94 160.49L536.12 160.50L536.31 160.50L536.49 160.50L536.67 160.50L536.85 160.50L537.03 160.50L537.22 160.50L537.40 160.50L537.58 160.50L537.76 160.50L537.95 160.50L538.13 160.50L538.31 160.50L538.49 160.50L538.67 160.50L538.86 160.50L539.04 160.50L539.22 160.50L539.40 160.50L539.58 160.50L539.77 160.50L539.95 160.50L540.13 160.50L540.31 160.50L540.50 160.50L540.68 160.50L540.86 160.50L541.04 160.50L541.22 160.50L541.41 160.50L541.59 160.50L541.77 160.50L541.95 160.50L542.13 160.50L542.32 160.50L542.50 160.50L542.68 160.50L542.86 160.50L543.05 160.50L543.23 160.50L543.41 160.50L543.59 160.50L543.77 160.50L543.96 160.50L544.14 160.50L544.32 160.50L544.50 160.50L544.68 160.50L544.87 160.50L545.05 160.50L545.23 160.50L545.41 160.50L545.60 160.50L545.78 160.50L545.96 160.50L546.14 160.50L546.32 160.50L546.51 160.50L546.69 160.50L546.87 160.50L547.05 160.50L547.23 160.50L547.42 160.50L547.60 160.50L547.78 160.50L547.96 160.50L548.15 160.50L548.33 160.50L548.51 160.50L548.69 160.50L548.87 160.50L549.06 160.50L549.24 160.50L549.42 160.50L549.60 160.50L549.78 160.50L549.97 160.50L550.15 160.50L550.33 160.50L550.51 160.50L550.70 160.50L550.88 160.50L551.06 160.50L551.24 160.50L551.42 160.50L551.61 160.50L551.79 160.50L551.97 160.50L552.15 160.50L552.33 160.50L552.52 160.50L552.70 160.50L552.88 160.50L553.06 160.50L553.25 160.50L553.43 160.50L553.61 160.50L553.79 160.50L553.97 160.50L554.16 160.50L554.34 160.50L554.52 160.50L554.70 160.50L554.88 160.50L555.07 160.50L555.25 160.50L555.43 160.50L555.61 160.50L555.80 160.50L555.98 160.50L556.16 160.50L556.34 160.50L556.52 160.50L556.71 160.50L556.89 160.50L557.07 160.50L557.25 160.50L557.43 160.50L557.62 160.50L557.80 160.50L557.98 160.50L558.16 160.50L558.35 160.50L558.53 160.50L558.71 160.50L558.89 160.50L559.07 160.50L559.26 160.50L559.44 160.50L559.62 160.50L559.80 160.50L559.98 160.50L560.17 160.50L560.35 160.50L560.53 160.50L560.71 160.50L560.90 160.50L561.08 160.50L561.26 160.50L561.44 160.50L561.62 160.50L561.81 160.50L561.99 160.50L562.17 160.50L562.35 160.50L562.53 160.50L562.72 160.50L562.90 160.50L563.08 160.50L563.26 160.50L563.45 160.50L563.63 160.50L563.81 160.50L563.99 160.50L564.17 160.50L564.36 160.50L564.54 160.50L564.72 160.50L564.90 160.50L565.08 160.50L565.27 160.50L565.45 160.50L565.63 160.50L565.81 160.50L566.00 160.50L566.18 160.50L566.36 160.50L566.54 160.50L566.72 160.50L566.91 160.50L567.09 160.50L567.27 160.50L567.45 160.50L567.63 160.50L567.82 160.49L568.00 160.49L568.18 160.49L568.36 160.49L568.55 160.49L568.73 160.49L568.91 160.49L569.09 160.49L569.27 160.49L569.46 160.49L569.64 160.49L569.82 160.49L570.00 160.49L570.18 160.49L570.37 160.49L570.55 160.49L570.73 160.48L570.91 160.48L571.10 160.48L571.28 160.48L571.46 160.47L571.64 160.47L571.82 160.47L572.01 160.46L572.19 160.45L572.37 160.44L572.55 160.43L572.73 160.40L572.92 160.37L573.10 160.27L573.28 160.03L573.46 159.48L573.65 158.51L573.83 157.37L574.01 156.80L574.01 156.80L574.19 157.37L574.37 158.51L574.56 159.48L574.74 160.03L574.92 160.27L575.10 160.37L575.28 160.40L575.47 160.43L575.65 160.44L575.83 160.45L576.01 160.46L576.19 160.47L576.38 160.47L576.56 160.47L576.74 160.48L576.92 160.48L577.11 160.48L577.29 160.48L577.47 160.49L577.65 160.49L577.83 160.49L578.02 160.49L578.20 160.49L578.38 160.49L578.56 160.49L578.74 160.49L578.93 160.49L579.11 160.49L579.29 160.49L579.47 160.49L579.66 160.49L579.84 160.49L580.02 160.49L580.20 160.50L580.38 160.50L580.57 160.50L580.75 160.50L580.93 160.50L581.11 160.50L581.29 160.50L581.48 160.50L581.66 160.50L581.84 160.50L582.02 160.50L582.21 160.50L582.39 160.50L582.57 160.50L582.75 160.50L582.93 160.50L583.12 160.50L583.30 160.50L583.48 160.50L583.66 160.50L583.84 160.50L584.03 160.50L584.21 160.50L584.39 160.50L584.57 160.50L584.76 160.50L584.94 160.50L585.12 160.50L585.30 160.50L585.48 160.50L585.67 160.50L585.85 160.50L586.03 160.50L586.21 160.50L586.39 160.50L586.58 160.50L586.76 160.50L586.94 160.50L587.12 160.50L587.31 160.50L587.49 160.50L587.67 160.50L587.85 160.50L588.03 160.50L588.22 160.50L588.40 160.50L588.58 160.50L588.76 160.50L588.94 160.50L589.13 160.50L589.31 160.50L589.49 160.50L589.67 160.50L589.86 160.50L590.04 160.50L590.22 160.50L590.40 160.50L590.58 160.50L590.77 160.50L590.95 160.50L591.13 160.50L591.31 160.50L591.49 160.50L591.68 160.50L591.86 160.50L592.04 160.50L592.22 160.50L592.41 160.50L592.59 160.50L592.77 160.50L592.95 160.50L593.13 160.50L593.32 160.50L593.50 160.50L593.68 160.50L593.86 160.50L594.04 160.50L594.23 160.50L594.41 160.50L594.59 160.50L594.77 160.50L594.96 160.50L595.14 160.50L595.32 160.50L595.50 160.50L595.68 160.50L595.87 160.50L596.05 160.50L596.23 160.50L596.41 160.50L596.59 160.50L596.78 160.50L596.96 160.50L597.14 160.50L597.32 160.50L597.51 160.50L597.69 160.50L597.87 160.50L598.05 160.50L598.23 160.50L598.42 160.50L598.60 160.50L598.78 160.50L598.96 160.50L599.14 160.50L599.33 160.50L599.51 160.50L599.69 160.50L599.87 160.50L600.06 160.50L600.24 160.50L600.42 160.50L600.60 160.50L600.78 160.50L600.97 160.50L601.15 160.50L601.33 160.50L601.51 160.50L601.69 160.50L601.88 160.50L602.06 160.50L602.24 160.50L602.42 160.50L602.61 160.50L602.79 160.50L602.97 160.50L603.15 160.50L603.33 160.50L603.52 160.50L603.70 160.50L603.88 160.50L604.06 160.50L604.24 160.50L604.43 160.50L604.61 160.50L604.79 160.50L604.97 160.50L605.16 160.50L605.34 160.50L605.52 160.50L605.70 160.50L605.88 160.50L606.07 160.50L606.25 160.50L606.43 160.50L606.61 160.50L606.79 160.50L606.98 160.50L607.16 160.50L607.34 160.50L607.52 160.50L607.71 160.50L607.89 160.50L608.07 160.50L608.25 160.50L608.43 160.50L608.62 160.50L608.80 160.50L608.98 160.50L609.16 160.50L609.34 160.50L609.53 160.50L609.71 160.50L609.89 160.50L610.07 160.50L610.26 160.50L610.44 160.50L610.62 160.50L610.80 160.50L610.98 160.50L611.17 160.50L611.35 160.50L611.53 160.50L611.71 160.50L611.89 160.50L612.08 160.50L612.26 160.50L612.44 160.50L612.62 160.50L612.81 160.50L612.99 160.50L613.17 160.50L613.35 160.50L613.53 160.50L613.72 160.50L613.90 160.50L614.08 160.50L614.26 160.50L614.44 160.50L614.63 160.50L614.81 160.50L614.99 160.50L615.17 160.50L615.36 160.50L615.54 160.50L615.72 160.50L615.90 160.50L616.08 160.50L616.27 160.50L616.45 160.50L616.63 160.50L616.81 160.50L616.99 160.50L617.18 160.50L617.36 160.50L617.54 160.50L617.72 160.50L617.91 160.50L618.09 160.50L618.27 160.50L618.45 160.50L618.63 160.50L618.82 160.50L619.00 160.50L619.18 160.50L619.36 160.50L619.54 160.50L619.73 160.50L619.91 160.50L620.09 160.50L620.27 160.50L620.46 160.50L620.64 160.50L620.82 160.50L621.00 160.50L621.18 160.50L621.37 160.50L621.55 160.50L621.73 160.50L621.91 160.50L622.09 160.50L622.28 160.50L622.46 160.50L622.64 160.50L622.82 160.50L623.00 160.50L623.19 160.50L623.37 160.50L623.55 160.50L623.73 160.50L623.92 160.50L624.10 160.50L624.28 160.50L624.46 160.50L624.64 160.50L624.83 160.50L625.01 160.50L625.19 160.50L625.37 160.50L625.55 160.50L625.74 160.50L625.92 160.50L626.10 160.50L626.28 160.50L626.47 160.50L626.65 160.50L626.83 160.50L627.01 160.50L627.19 160.50L627.38 160.50L627.56 160.50L627.74 160.50L627.92 160.50L628.10 160.50L628.29 160.50L628.47 160.50L628.65 160.50L628.83 160.50L629.02 160.50L629.20 160.50L629.38 160.50L629.56 160.50L629.74 160.50L629.93 160.50L630.11 160.50L630.29 160.50L630.47 160.50L630.65 160.50L630.84 160.50L631.02 160.50L631.20 160.50L631.38 160.50L631.57 160.50L631.75 160.50L631.93 160.50L632.11 160.50L632.29 160.50L632.48 160.50L632.66 160.50L632.84 160.50L633.02 160.50L633.20 160.50L633.39 160.50L633.57 160.50L633.75 160.50L633.93 160.50L634.12 160.50L634.30 160.50L634.48 160.50L634.66 160.50L634.84 160.50L635.03 160.50L635.21 160.50L635.39 160.50L635.57 160.50L635.75 160.50L635.94 160.50L636.12 160.50L636.30 160.50L636.48 160.50L636.67 160.50L636.85 160.50L637.03 160.50L637.21 160.50L637.39 160.50L637.58 160.50L637.76 160.50L637.94 160.50L638.12 160.50L638.30 160.50L638.49 160.50L638.67 160.50L638.85 160.50L639.03 160.49L639.22 160.49L639.40 160.49L639.58 160.49L639.76 160.49L639.94 160.49L640.13 160.49L640.31 160.49L640.49 160.49L640.67 160.49L640.85 160.49L641.04 160.49L641.22 160.49L641.40 160.49L641.58 160.49L641.77 160.49L641.95 160.49L642.13 160.49L642.31 160.48L642.49 160.48L642.68 160.48L642.86 160.48L643.04 160.48L643.22 160.47L643.40 160.47L643.59 160.46L643.77 160.45L643.95 160.44L644.13 160.40L644.32 160.30L644.50 160.08L644.68 159.69L644.86 159.23L645.04 159.00L645.04 159.00L645.23 159.23L645.41 159.68L645.59 160.07L645.77 160.29L645.95 160.39L646.14 160.42L646.32 160.43L646.50 160.44L646.68 160.44L646.87 160.44L647.05 160.44L647.23 160.43L647.41 160.42L647.59 160.41L647.78 160.40L647.96 160.38L648.14 160.35L648.32 160.31L648.50 160.23L648.69 160.06L648.87 159.59L649.05 158.51L649.23 156.62L649.42 154.41L649.60 153.30L649.60 153.30L649.78 154.41L649.96 156.63L650.14 158.51L650.33 159.59L650.51 160.06L650.69 160.24L650.87 160.31L651.05 160.36L651.24 160.38L651.42 160.40L651.60 160.42L651.78 160.43L651.97 160.44L652.15 160.45L652.33 160.46L652.51 160.46L652.69 160.47L652.88 160.47L653.06 160.47L653.24 160.47L653.42 160.48L653.60 160.48L653.79 160.48L653.97 160.48L654.15 160.48L654.33 160.48L654.52 160.49L654.70 160.49L654.88 160.49L655.06 160.49L655.24 160.49L655.43 160.49L655.61 160.49L655.79 160.49L655.97 160.49L656.15 160.49L656.34 160.49L656.52 160.49L656.70 160.49L656.88 160.49" fill="none" stroke="#000" stroke-width="1.8" stroke-linejoin="round"/>
<path d="M55.82 314.56L56.00 314.56L56.19 314.56L56.37 314.56L56.55 314.56L56.73 314.56L56.91 314.56L57.10 314.56L57.28 314.56L57.46 314.56L57.64 314.56L57.82 314.56L58.01 314.56L58.19 314.56L58.37 314.56L58.55 314.56L58.74 314.55L58.92 314.55L59.10 314.55L59.28 314.55L59.46 314.55L59.65 314.55L59.83 314.55L60.01 314.55L60.19 314.55L60.37 314.55L60.56 314.55L60.74 314.55L60.92 314.54L61.10 314.54L61.29 314.54L61.47 314.54L61.65 314.54L61.83 314.54L62.01 314.54L62.20 314.54L62.38 314.54L62.56 314.53L62.74 314.53L62.92 314.53L63.11 314.53L63.29 314.53L63.47 314.53L63.65 314.53L63.84 314.52L64.02 314.52L64.20 314.52L64.38 314.52L64.56 314.52L64.75 314.52L64.93 314.51L65.11 314.51L65.29 314.51L65.47 314.51L65.66 314.50L65.84 314.50L66.02 314.50L66.20 314.50L66.39 314.50L66.57 314.49L66.75 314.49L66.93 314.49L67.11 314.48L67.30 314.48L67.48 314.48L67.66 314.47L67.84 314.47L68.02 314.47L68.21 314.46L68.39 314.46L68.57 314.45L68.75 314.45L68.94 314.44L69.12 314.44L69.30 314.43L69.48 314.43L69.66 314.42L69.85 314.42L70.03 314.41L70.21 314.40L70.39 314.40L70.57 314.39L70.76 314.38L70.94 314.37L71.12 314.36L71.30 314.35L71.49 314.34L71.67 314.33L71.85 314.32L72.03 314.30L72.21 314.29L72.40 314.28L72.58 314.26L72.76 314.24L72.94 314.22L73.12 314.20L73.31 314.18L73.49 314.16L73.67 314.13L73.85 314.10L74.04 314.07L74.22 314.03L74.40 313.99L74.58 313.95L74.76 313.90L74.95 313.84L75.13 313.78L75.31 313.71L75.49 313.62L75.67 313.53L75.86 313.41L76.04 313.28L76.22 313.12L76.40 312.93L76.58 312.70L76.77 312.41L76.95 312.05L77.13 311.58L77.31 310.95L77.50 310.04L77.68 308.50L77.86 305.31L78.04 298.08L78.22 283.02L78.41 257.29L78.59 223.99L78.77 197.07L78.86 192.80L78.95 196.81L79.13 223.17L79.32 255.65L79.50 279.90L79.68 291.95L79.86 293.64L80.05 288.60L80.23 281.31L80.41 277.80L80.41 277.80L80.59 281.96L80.77 290.29L80.96 297.73L81.14 301.96L81.32 302.42L81.50 298.18L81.68 286.29L81.87 262.65L82.05 226.73L82.23 188.27L82.41 170.10L82.41 170.10L82.60 188.56L82.78 227.34L82.96 263.62L83.14 287.74L83.32 300.37L83.51 306.07L83.69 308.62L83.87 309.97L84.05 310.84L84.23 311.46L84.42 311.93L84.60 312.30L84.78 312.59L84.96 312.83L85.15 313.02L85.33 313.18L85.51 313.32L85.69 313.43L85.87 313.53L86.06 313.61L86.24 313.68L86.42 313.75L86.60 313.80L86.78 313.85L86.97 313.89L87.15 313.93L87.33 313.96L87.51 313.99L87.70 314.01L87.88 314.03L88.06 314.05L88.24 314.06L88.42 314.08L88.61 314.09L88.79 314.09L88.97 314.10L89.15 314.10L89.33 314.10L89.52 314.09L89.70 314.09L89.88 314.08L90.06 314.06L90.25 314.04L90.43 314.02L90.61 313.99L90.79 313.95L90.97 313.90L91.16 313.84L91.34 313.76L91.52 313.66L91.70 313.53L91.88 313.35L92.07 313.10L92.25 312.68L92.43 311.81L92.61 309.88L92.80 305.89L92.98 299.08L93.16 290.27L93.34 283.09L93.43 281.90L93.52 282.86L93.71 289.50L93.89 297.47L94.07 302.58L94.25 302.91L94.43 297.91L94.62 288.38L94.80 277.71L94.98 272.70L94.98 272.70L95.16 278.10L95.35 289.27L95.53 299.71L95.71 306.65L95.89 310.30L96.07 311.96L96.26 312.71L96.44 313.11L96.62 313.38L96.80 313.57L96.98 313.72L97.17 313.83L97.35 313.92L97.53 314.00L97.71 314.06L97.90 314.11L98.08 314.15L98.26 314.19L98.44 314.22L98.62 314.25L98.81 314.28L98.99 314.30L99.17 314.32L99.35 314.33L99.53 314.35L99.72 314.36L99.90 314.37L100.08 314.38L100.26 314.39L100.45 314.40L100.63 314.41L100.81 314.42L100.99 314.43L101.17 314.43L101.36 314.44L101.54 314.44L101.72 314.45L101.90 314.45L102.08 314.46L102.27 314.46L102.45 314.46L102.63 314.47L102.81 314.47L103.00 314.47L103.18 314.47L103.36 314.48L103.54 314.48L103.72 314.48L103.91 314.48L104.09 314.48L104.27 314.48L104.45 314.48L104.63 314.48L104.82 314.48L105.00 314.48L105.18 314.48L105.36 314.48L105.55 314.48L105.73 314.48L105.91 314.47L106.09 314.47L106.27 314.47L106.46 314.46L106.64 314.46L106.82 314.45L107.00 314.44L107.18 314.44L107.37 314.43L107.55 314.41L107.73 314.40L107.91 314.38L108.10 314.36L108.28 314.33L108.46 314.30L108.64 314.25L108.82 314.20L109.01 314.12L109.19 314.02L109.37 313.88L109.55 313.62L109.73 313.09L109.92 311.85L110.10 309.27L110.28 304.85L110.46 299.13L110.65 294.52L110.74 293.80L110.83 294.52L111.01 299.13L111.19 304.85L111.37 309.28L111.56 311.86L111.74 313.09L111.92 313.63L112.10 313.89L112.28 314.04L112.47 314.14L112.65 314.21L112.83 314.27L113.01 314.31L113.20 314.35L113.38 314.38L113.56 314.40L113.74 314.42L113.92 314.44L114.11 314.45L114.29 314.46L114.47 314.47L114.65 314.48L114.83 314.49L115.02 314.50L115.20 314.50L115.38 314.51L115.56 314.51L115.75 314.52L115.93 314.52L116.11 314.53L116.29 314.53L116.47 314.53L116.66 314.53L116.84 314.54L117.02 314.54L117.20 314.54L117.38 314.54L117.57 314.55L117.75 314.55L117.93 314.55L118.11 314.55L118.30 314.55L118.48 314.55L118.66 314.55L118.84 314.56L119.02 314.56L119.21 314.56L119.39 314.56L119.57 314.56L119.75 314.56L119.93 314.56L120.12 314.56L120.30 314.56L120.48 314.56L120.66 314.56L120.84 314.57L121.03 314.57L121.21 314.57L121.39 314.57L121.57 314.57L121.76 314.57L121.94 314.57L122.12 314.57L122.30 314.57L122.48 314.57L122.67 314.57L122.85 314.57L123.03 314.57L123.21 314.57L123.39 314.57L123.58 314.57L123.76 314.57L123.94 314.57L124.12 314.57L124.31 314.57L124.49 314.57L124.67 314.57L124.85 314.58L125.03 314.58L125.22 314.58L125.40 314.58L125.58 314.58L125.76 314.58L125.94 314.58L126.13 314.58L126.31 314.58L126.49 314.58L126.67 314.58L126.86 314.58L127.04 314.58L127.22 314.58L127.40 314.58L127.58 314.58L127.77 314.58L127.95 314.58L128.13 314.58L128.31 314.58L128.49 314.58L128.68 314.58L128.86 314.58L129.04 314.58L129.22 314.58L129.41 314.58L129.59 314.58L129.77 314.58L129.95 314.58L130.13 314.58L130.32 314.58L130.50 314.58L130.68 314.58L130.86 314.58L131.04 314.58L131.23 314.58L131.41 314.58L131.59 314.58L131.77 314.58L131.96 314.58L132.14 314.58L132.32 314.58L132.50 314.58L132.68 314.58L132.87 314.58L133.05 314.58L133.23 314.58L133.41 314.58L133.59 314.57L133.78 314.57L133.96 314.57L134.14 314.57L134.32 314.57L134.51 314.57L134.69 314.56L134.87 314.56L135.05 314.55L135.23 314.55L135.42 314.54L135.60 314.51L135.78 314.46L135.96 314.35L136.14 314.13L136.33 313.81L136.51 313.46L136.69 313.30L136.69 313.30L136.87 313.46L137.06 313.81L137.24 314.14L137.42 314.35L137.60 314.46L137.78 314.51L137.97 314.54L138.15 314.55L138.33 314.56L138.51 314.56L138.69 314.56L138.88 314.57L139.06 314.57L139.24 314.57L139.42 314.57L139.61 314.57L139.79 314.58L139.97 314.58L140.15 314.58L140.33 314.58L140.52 314.58L140.70 314.58L140.88 314.58L141.06 314.58L141.24 314.58L141.43 314.58L141.61 314.58L141.79 314.58L141.97 314.58L142.16 314.58L142.34 314.58L142.52 314.58L142.70 314.58L142.88 314.58L143.07 314.58L143.25 314.58L143.43 314.58L143.61 314.58L143.79 314.58L143.98 314.58L144.16 314.58L144.34 314.58L144.52 314.58L144.71 314.58L144.89 314.58L145.07 314.58L145.25 314.58L145.43 314.58L145.62 314.58L145.80 314.58L145.98 314.58L146.16 314.58L146.34 314.57L146.53 314.57L146.71 314.57L146.89 314.57L147.07 314.57L147.26 314.57L147.44 314.57L147.62 314.57L147.80 314.56L147.98 314.56L148.17 314.56L148.35 314.55L148.53 314.55L148.71 314.54L148.89 314.53L149.08 314.52L149.26 314.51L149.44 314.49L149.62 314.44L149.81 314.34L149.99 314.13L150.17 313.71L150.35 313.09L150.53 312.42L150.72 312.10L150.72 312.10L150.90 312.42L151.08 313.08L151.26 313.71L151.44 314.12L151.63 314.34L151.81 314.43L151.99 314.48L152.17 314.50L152.36 314.51L152.54 314.52L152.72 314.53L152.90 314.53L153.08 314.53L153.27 314.53L153.45 314.53L153.63 314.53L153.81 314.53L153.99 314.53L154.18 314.53L154.36 314.53L154.54 314.52L154.72 314.52L154.91 314.51L155.09 314.50L155.27 314.50L155.45 314.49L155.63 314.47L155.82 314.46L156.00 314.44L156.18 314.41L156.36 314.38L156.54 314.33L156.73 314.27L156.91 314.17L157.09 313.99L157.27 313.57L157.46 312.64L157.64 310.87L157.82 308.20L158.00 305.35L158.18 304.00L158.18 304.00L158.37 305.35L158.55 308.19L158.73 310.85L158.91 312.61L159.09 313.53L159.28 313.93L159.46 314.10L159.64 314.16L159.82 314.15L160.01 314.02L160.19 313.71L160.37 313.14L160.55 312.39L160.73 311.79L160.82 311.70L160.92 311.80L161.10 312.43L161.28 313.21L161.46 313.81L161.64 314.16L161.83 314.33L162.01 314.41L162.19 314.44L162.37 314.47L162.56 314.48L162.74 314.49L162.92 314.50L163.10 314.50L163.28 314.51L163.47 314.50L163.65 314.48L163.83 314.44L164.01 314.35L164.19 314.21L164.38 314.07L164.56 314.00L164.56 314.00L164.74 314.07L164.92 314.22L165.11 314.36L165.29 314.45L165.47 314.50L165.65 314.52L165.83 314.53L166.02 314.53L166.20 314.53L166.38 314.53L166.56 314.53L166.74 314.52L166.93 314.51L167.11 314.51L167.29 314.49L167.47 314.47L167.65 314.44L167.84 314.39L168.02 314.25L168.20 313.96L168.38 313.39L168.57 312.54L168.75 311.63L168.93 311.20L168.93 311.20L169.11 311.63L169.29 312.54L169.48 313.39L169.66 313.96L169.84 314.26L170.02 314.39L170.20 314.45L170.39 314.48L170.57 314.50L170.75 314.51L170.93 314.52L171.12 314.53L171.30 314.53L171.48 314.53L171.66 314.53L171.84 314.53L172.03 314.51L172.21 314.47L172.39 314.39L172.57 314.29L172.75 314.21L172.85 314.20L172.94 314.21L173.12 314.29L173.30 314.40L173.48 314.47L173.67 314.52L173.85 314.54L174.03 314.55L174.21 314.55L174.39 314.56L174.58 314.56L174.76 314.56L174.94 314.56L175.12 314.56L175.30 314.56L175.49 314.56L175.67 314.56L175.85 314.56L176.03 314.56L176.22 314.56L176.40 314.55L176.58 314.55L176.76 314.55L176.94 314.55L177.13 314.54L177.31 314.54L177.49 314.53L177.67 314.52L177.85 314.51L178.04 314.49L178.22 314.46L178.40 314.39L178.58 314.24L178.77 313.92L178.95 313.37L179.13 312.66L179.31 312.09L179.40 312.00L179.49 312.09L179.68 312.66L179.86 313.37L180.04 313.91L180.22 314.23L180.40 314.38L180.59 314.45L180.77 314.48L180.95 314.49L181.13 314.51L181.32 314.51L181.50 314.52L181.68 314.52L181.86 314.53L182.04 314.53L182.23 314.53L182.41 314.53L182.59 314.53L182.77 314.52L182.95 314.52L183.14 314.52L183.32 314.52L183.50 314.51L183.68 314.51L183.87 314.50L184.05 314.49L184.23 314.48L184.41 314.47L184.59 314.45L184.78 314.43L184.96 314.40L185.14 314.37L185.32 314.31L185.50 314.20L185.69 313.95L185.87 313.40L186.05 312.36L186.23 310.78L186.42 309.10L186.60 308.30L186.60 308.30L186.78 309.09L186.96 310.77L187.14 312.33L187.33 313.37L187.51 313.91L187.69 314.15L187.87 314.25L188.05 314.30L188.24 314.32L188.42 314.34L188.60 314.34L188.78 314.34L188.97 314.34L189.15 314.32L189.33 314.30L189.51 314.28L189.69 314.24L189.88 314.19L190.06 314.13L190.24 314.03L190.42 313.89L190.60 313.62L190.79 313.02L190.97 311.70L191.15 309.18L191.33 305.39L191.52 301.34L191.70 299.40L191.70 299.40L191.88 301.26L192.06 305.23L192.24 308.92L192.43 311.31L192.61 312.45L192.79 312.72L192.97 312.25L193.15 310.77L193.34 307.76L193.52 303.16L193.70 298.23L193.88 295.90L193.88 295.90L194.07 298.28L194.25 303.28L194.43 307.95L194.61 311.06L194.79 312.68L194.98 313.40L195.16 313.72L195.34 313.87L195.52 313.94L195.70 313.93L195.89 313.77L196.07 313.41L196.25 312.82L196.43 312.19L196.62 311.90L196.62 311.90L196.80 312.23L196.98 312.91L197.16 313.55L197.34 313.97L197.53 314.19L197.71 314.30L197.89 314.34L198.07 314.37L198.25 314.38L198.44 314.39L198.62 314.40L198.80 314.40L198.98 314.40L199.17 314.39L199.35 314.38L199.53 314.37L199.71 314.35L199.89 314.32L200.08 314.28L200.26 314.22L200.44 314.13L200.62 313.96L200.80 313.57L200.99 312.70L201.17 311.04L201.35 308.54L201.53 305.87L201.72 304.60L201.72 304.60L201.90 305.85L202.08 308.50L202.26 310.96L202.44 312.58L202.63 313.37L202.81 313.57L202.99 313.34L203.17 312.66L203.35 311.56L203.54 310.36L203.72 309.80L203.72 309.80L203.90 310.41L204.08 311.67L204.27 312.85L204.45 313.63L204.63 314.04L204.81 314.23L204.99 314.32L205.18 314.36L205.36 314.39L205.54 314.42L205.72 314.43L205.90 314.44L206.09 314.45L206.27 314.45L206.45 314.45L206.63 314.45L206.82 314.45L207.00 314.44L207.18 314.42L207.36 314.39L207.54 314.33L207.73 314.20L207.91 313.91L208.09 313.36L208.27 312.52L208.45 311.63L208.64 311.20L208.64 311.20L208.82 311.61L209.00 312.48L209.18 313.29L209.37 313.79L209.55 313.95L209.73 313.81L209.91 313.35L210.09 312.60L210.28 311.78L210.46 311.40L210.46 311.40L210.64 311.81L210.82 312.65L211.00 313.44L211.19 313.96L211.37 314.24L211.55 314.36L211.73 314.41L211.91 314.44L212.10 314.46L212.28 314.47L212.46 314.47L212.64 314.46L212.83 314.44L213.01 314.37L213.19 314.22L213.37 313.96L213.55 313.62L213.74 313.34L213.83 313.30L213.92 313.34L214.10 313.62L214.28 313.96L214.46 314.23L214.65 314.38L214.83 314.45L215.01 314.48L215.19 314.49L215.38 314.49L215.56 314.48L215.74 314.45L215.92 314.39L216.10 314.24L216.29 313.94L216.47 313.50L216.65 313.02L216.83 312.80L216.83 312.80L217.01 313.03L217.20 313.51L217.38 313.95L217.56 314.25L217.74 314.41L217.93 314.48L218.11 314.51L218.29 314.52L218.47 314.53L218.65 314.54L218.84 314.55L219.02 314.55L219.20 314.56L219.38 314.56L219.56 314.56L219.75 314.56L219.93 314.57L220.11 314.57L220.29 314.57L220.48 314.57L220.66 314.57L220.84 314.57L221.02 314.57L221.20 314.57L221.39 314.57L221.57 314.57L221.75 314.57L221.93 314.57L222.11 314.57L222.30 314.57L222.48 314.56L222.66 314.56L222.84 314.56L223.03 314.55L223.21 314.54L223.39 314.51L223.57 314.44L223.75 314.31L223.94 314.11L224.12 313.90L224.30 313.80L224.30 313.80L224.48 313.90L224.66 314.11L224.85 314.31L225.03 314.44L225.21 314.51L225.39 314.54L225.58 314.55L225.76 314.56L225.94 314.56L226.12 314.57L226.30 314.57L226.49 314.57L226.67 314.57L226.85 314.58L227.03 314.58L227.21 314.58L227.40 314.58L227.58 314.58L227.76 314.58L227.94 314.58L228.13 314.58L228.31 314.58L228.49 314.58L228.67 314.58L228.85 314.58L229.04 314.58L229.22 314.58L229.40 314.58L229.58 314.58L229.76 314.58L229.95 314.58L230.13 314.58L230.31 314.58L230.49 314.58L230.68 314.58L230.86 314.58L231.04 314.58L231.22 314.58L231.40 314.58L231.59 314.58L231.77 314.58L231.95 314.58L232.13 314.58L232.31 314.58L232.50 314.58L232.68 314.58L232.86 314.58L233.04 314.58L233.23 314.58L233.41 314.58L233.59 314.58L233.77 314.58L233.95 314.57L234.14 314.57L234.32 314.57L234.50 314.57L234.68 314.57L234.86 314.57L235.05 314.57L235.23 314.57L235.41 314.57L235.59 314.57L235.78 314.57L235.96 314.57L236.14 314.56L236.32 314.56L236.50 314.56L236.69 314.56L236.87 314.56L237.05 314.55L237.23 314.55L237.41 314.55L237.60 314.54L237.78 314.54L237.96 314.53L238.14 314.53L238.33 314.52L238.51 314.51L238.69 314.50L238.87 314.48L239.05 314.46L239.24 314.43L239.42 314.38L239.60 314.29L239.78 314.09L239.96 313.65L240.15 312.80L240.33 311.52L240.51 310.15L240.69 309.50L240.69 309.50L240.88 310.15L241.06 311.51L241.24 312.79L241.42 313.64L241.60 314.09L241.79 314.28L241.97 314.37L242.15 314.42L242.33 314.45L242.51 314.46L242.70 314.48L242.88 314.49L243.06 314.50L243.24 314.50L243.43 314.51L243.61 314.51L243.79 314.51L243.97 314.52L244.15 314.52L244.34 314.52L244.52 314.52L244.70 314.52L244.88 314.52L245.06 314.51L245.25 314.51L245.43 314.51L245.61 314.51L245.79 314.50L245.98 314.50L246.16 314.49L246.34 314.49L246.52 314.48L246.70 314.47L246.89 314.46L247.07 314.45L247.25 314.43L247.43 314.42L247.61 314.39L247.80 314.37L247.98 314.33L248.16 314.28L248.34 314.21L248.53 314.08L248.71 313.80L248.89 313.17L249.07 312.00L249.25 310.23L249.44 308.34L249.62 307.40L249.62 307.40L249.80 308.17L249.98 309.79L250.16 311.01L250.35 311.17L250.53 310.27L250.71 308.94L250.89 308.30L250.89 308.30L251.08 309.11L251.26 310.73L251.44 312.24L251.62 313.25L251.80 313.77L251.99 314.00L252.17 314.10L252.35 314.14L252.53 314.17L252.71 314.17L252.90 314.17L253.08 314.16L253.26 314.14L253.44 314.11L253.63 314.08L253.81 314.03L253.99 313.97L254.17 313.90L254.35 313.81L254.54 313.69L254.72 313.54L254.90 313.34L255.08 313.07L255.26 312.70L255.45 312.11L255.63 310.97L255.81 308.41L255.99 302.71L256.18 291.80L256.36 275.37L256.54 257.82L256.72 249.50L256.72 249.50L256.90 257.82L257.09 275.38L257.27 291.81L257.45 302.72L257.63 308.43L257.81 310.99L258.00 312.12L258.18 312.72L258.36 313.10L258.54 313.36L258.72 313.57L258.91 313.72L259.09 313.85L259.27 313.94L259.45 314.03L259.64 314.09L259.82 314.15L260.00 314.19L260.18 314.23L260.36 314.27L260.55 314.30L260.73 314.32L260.91 314.34L261.09 314.36L261.27 314.38L261.46 314.40L261.64 314.41L261.82 314.42L262.00 314.43L262.19 314.44L262.37 314.45L262.55 314.46L262.73 314.47L262.91 314.47L263.10 314.48L263.28 314.48L263.46 314.49L263.64 314.49L263.82 314.50L264.01 314.50L264.19 314.51L264.37 314.51L264.55 314.51L264.74 314.51L264.92 314.52L265.10 314.52L265.28 314.52L265.46 314.52L265.65 314.52L265.83 314.52L266.01 314.52L266.19 314.52L266.37 314.52L266.56 314.52L266.74 314.51L266.92 314.51L267.10 314.50L267.29 314.48L267.47 314.44L267.65 314.36L267.83 314.18L268.01 313.87L268.20 313.47L268.38 313.15L268.47 313.10L268.56 313.15L268.74 313.47L268.92 313.87L269.11 314.18L269.29 314.36L269.47 314.45L269.65 314.48L269.84 314.50L270.02 314.51L270.20 314.51L270.38 314.52L270.56 314.52L270.75 314.52L270.93 314.52L271.11 314.52L271.29 314.52L271.47 314.51L271.66 314.51L271.84 314.51L272.02 314.50L272.20 314.49L272.39 314.48L272.57 314.47L272.75 314.45L272.93 314.42L273.11 314.39L273.30 314.35L273.48 314.27L273.66 314.14L273.84 313.83L274.02 313.14L274.21 311.82L274.39 309.83L274.57 307.71L274.75 306.70L274.75 306.70L274.94 307.71L275.12 309.83L275.30 311.82L275.48 313.14L275.66 313.83L275.85 314.14L276.03 314.28L276.21 314.35L276.39 314.39L276.57 314.43L276.76 314.45L276.94 314.47L277.12 314.48L277.30 314.50L277.49 314.50L277.67 314.51L277.85 314.52L278.03 314.52L278.21 314.53L278.40 314.53L278.58 314.53L278.76 314.53L278.94 314.53L279.12 314.54L279.31 314.54L279.49 314.54L279.67 314.53L279.85 314.53L280.04 314.53L280.22 314.53L280.40 314.52L280.58 314.52L280.76 314.51L280.95 314.50L281.13 314.49L281.31 314.48L281.49 314.46L281.67 314.44L281.86 314.41L282.04 314.36L282.22 314.28L282.40 314.11L282.59 313.72L282.77 312.90L282.95 311.50L283.13 309.69L283.31 308.23L283.40 308.00L283.50 308.23L283.68 309.69L283.86 311.50L284.04 312.90L284.22 313.72L284.41 314.11L284.59 314.28L284.77 314.37L284.95 314.41L285.14 314.44L285.32 314.47L285.50 314.48L285.68 314.50L285.86 314.51L286.05 314.52L286.23 314.52L286.41 314.53L286.59 314.54L286.77 314.54L286.96 314.54L287.14 314.54L287.32 314.55L287.50 314.55L287.69 314.55L287.87 314.55L288.05 314.55L288.23 314.55L288.41 314.55L288.60 314.55L288.78 314.55L288.96 314.54L289.14 314.54L289.32 314.54L289.51 314.54L289.69 314.53L289.87 314.52L290.05 314.52L290.24 314.51L290.42 314.50L290.60 314.48L290.78 314.46L290.96 314.43L291.15 314.40L291.33 314.34L291.51 314.22L291.69 313.96L291.87 313.39L292.06 312.28L292.24 310.62L292.42 308.84L292.60 308.00L292.60 308.00L292.79 308.84L292.97 310.62L293.15 312.28L293.33 313.39L293.51 313.97L293.70 314.22L293.88 314.34L294.06 314.40L294.24 314.44L294.42 314.47L294.61 314.49L294.79 314.50L294.97 314.51L295.15 314.52L295.34 314.53L295.52 314.54L295.70 314.55L295.88 314.55L296.06 314.55L296.25 314.56L296.43 314.56L296.61 314.56L296.79 314.57L296.97 314.57L297.16 314.57L297.34 314.57L297.52 314.57L297.70 314.57L297.89 314.57L298.07 314.57L298.25 314.58L298.43 314.58L298.61 314.58L298.80 314.58L298.98 314.58L299.16 314.58L299.34 314.58L299.52 314.58L299.71 314.58L299.89 314.58L300.07 314.58L300.25 314.58L300.44 314.58L300.62 314.57L300.80 314.57L300.98 314.57L301.16 314.57L301.35 314.56L301.53 314.56L301.71 314.55L301.89 314.54L302.07 314.53L302.26 314.49L302.44 314.41L302.62 314.24L302.80 313.94L302.98 313.56L303.17 313.25L303.26 313.20L303.35 313.25L303.53 313.56L303.71 313.94L303.90 314.24L304.08 314.41L304.26 314.49L304.44 314.53L304.62 314.55L304.81 314.56L304.99 314.56L305.17 314.57L305.35 314.57L305.53 314.58L305.72 314.58L305.90 314.58L306.08 314.58L306.26 314.58L306.45 314.58L306.63 314.58L306.81 314.59L306.99 314.59L307.17 314.59L307.36 314.59L307.54 314.59L307.72 314.59L307.90 314.59L308.08 314.59L308.27 314.59L308.45 314.59L308.63 314.59L308.81 314.59L309.00 314.59L309.18 314.59L309.36 314.59L309.54 314.59L309.72 314.59L309.91 314.59L310.09 314.59L310.27 314.59L310.45 314.59L310.63 314.59L310.82 314.59L311.00 314.59L311.18 314.59L311.36 314.59L311.55 314.59L311.73 314.59L311.91 314.59L312.09 314.59L312.27 314.59L312.46 314.59L312.64 314.59L312.82 314.59L313.00 314.59L313.18 314.59L313.37 314.59L313.55 314.59L313.73 314.59L313.91 314.59L314.10 314.59L314.28 314.59L314.46 314.59L314.64 314.59L314.82 314.59L315.01 314.59L315.19 314.59L315.37 314.59L315.55 314.59L315.73 314.59L315.92 314.59L316.10 314.59L316.28 314.59L316.46 314.59L316.65 314.59L316.83 314.59L317.01 314.59L317.19 314.59L317.37 314.59L317.56 314.59L317.74 314.59L317.92 314.59L318.10 314.59L318.28 314.58L318.47 314.58L318.65 314.58L318.83 314.58L319.01 314.58L319.20 314.57L319.38 314.57L319.56 314.56L319.74 314.56L319.92 314.54L320.11 314.53L320.29 314.50L320.47 314.43L320.65 314.27L320.83 313.97L321.02 313.51L321.20 313.03L321.38 312.80L321.38 312.80L321.56 313.03L321.75 313.51L321.93 313.97L322.11 314.27L322.29 314.43L322.47 314.50L322.66 314.53L322.84 314.55L323.02 314.56L323.20 314.56L323.38 314.57L323.57 314.57L323.75 314.58L323.93 314.58L324.11 314.58L324.30 314.58L324.48 314.58L324.66 314.59L324.84 314.59L325.02 314.59L325.21 314.59L325.39 314.59L325.57 314.59L325.75 314.59L325.93 314.59L326.12 314.59L326.30 314.59L326.48 314.59L326.66 314.59L326.85 314.59L327.03 314.59L327.21 314.59L327.39 314.59L327.57 314.59L327.76 314.59L327.94 314.59L328.12 314.59L328.30 314.59L328.48 314.59L328.67 314.60L328.85 314.60L329.03 314.60L329.21 314.60L329.40 314.60L329.58 314.60L329.76 314.60L329.94 314.60L330.12 314.60L330.31 314.60L330.49 314.60L330.67 314.60L330.85 314.60L331.03 314.60L331.22 314.60L331.40 314.60L331.58 314.60L331.76 314.60L331.95 314.60L332.13 314.60L332.31 314.60L332.49 314.60L332.67 314.60L332.86 314.60L333.04 314.60L333.22 314.60L333.40 314.60L333.58 314.60L333.77 314.60L333.95 314.60L334.13 314.60L334.31 314.60L334.50 314.60L334.68 314.60L334.86 314.60L335.04 314.60L335.22 314.60L335.41 314.60L335.59 314.60L335.77 314.60L335.95 314.60L336.13 314.60L336.32 314.60L336.50 314.60L336.68 314.60L336.86 314.60L337.05 314.60L337.23 314.60L337.41 314.60L337.59 314.60L337.77 314.60L337.96 314.60L338.14 314.60L338.32 314.60L338.50 314.60L338.68 314.60L338.87 314.60L339.05 314.60L339.23 314.60L339.41 314.60L339.60 314.60L339.78 314.60L339.96 314.60L340.14 314.60L340.32 314.60L340.51 314.60L340.69 314.60L340.87 314.60L341.05 314.60L341.23 314.60L341.42 314.60L341.60 314.60L341.78 314.60L341.96 314.60L342.15 314.60L342.33 314.60L342.51 314.60L342.69 314.60L342.87 314.60L343.06 314.60L343.24 314.60L343.42 314.60L343.60 314.60L343.78 314.60L343.97 314.60L344.15 314.60L344.33 314.60L344.51 314.60L344.70 314.60L344.88 314.60L345.06 314.60L345.24 314.60L345.42 314.60L345.61 314.60L345.79 314.60L345.97 314.60L346.15 314.60L346.33 314.60L346.52 314.60L346.70 314.60L346.88 314.60L347.06 314.60L347.25 314.60L347.43 314.60L347.61 314.60L347.79 314.60L347.97 314.60L348.16 314.60L348.34 314.60L348.52 314.60L348.70 314.60L348.88 314.60L349.07 314.60L349.25 314.60L349.43 314.60L349.61 314.60L349.79 314.60L349.98 314.60L350.16 314.60L350.34 314.60L350.52 314.60L350.71 314.60L350.89 314.60L351.07 314.60L351.25 314.60L351.43 314.60L351.62 314.60L351.80 314.60L351.98 314.60L352.16 314.60L352.34 314.60L352.53 314.60L352.71 314.60L352.89 314.60L353.07 314.60L353.26 314.60L353.44 314.59L353.62 314.59L353.80 314.59L353.98 314.59L354.17 314.59L354.35 314.59L354.53 314.59L354.71 314.59L354.89 314.59L355.08 314.59L355.26 314.59L355.44 314.58L355.62 314.58L355.81 314.58L355.99 314.57L356.17 314.55L356.35 314.52L356.53 314.45L356.72 314.32L356.90 314.12L357.08 313.90L357.26 313.80L357.26 313.80L357.44 313.90L357.63 314.12L357.81 314.32L357.99 314.45L358.17 314.52L358.36 314.55L358.54 314.57L358.72 314.58L358.90 314.58L359.08 314.58L359.27 314.59L359.45 314.59L359.63 314.59L359.81 314.59L359.99 314.59L360.18 314.59L360.36 314.59L360.54 314.59L360.72 314.59L360.91 314.59L361.09 314.59L361.27 314.60L361.45 314.60L361.63 314.60L361.82 314.60L362.00 314.60L362.18 314.60L362.36 314.60L362.54 314.60L362.73 314.60L362.91 314.60L363.09 314.60L363.27 314.60L363.46 314.60L363.64 314.60L363.82 314.60L364.00 314.60L364.18 314.60L364.37 314.60L364.55 314.60L364.73 314.60L364.91 314.60L365.09 314.60L365.28 314.60L365.46 314.60L365.64 314.60L365.82 314.60L366.01 314.60L366.19 314.60L366.37 314.60L366.55 314.60L366.73 314.60L366.92 314.60L367.10 314.60L367.28 314.60L367.46 314.60L367.64 314.60L367.83 314.60L368.01 314.60L368.19 314.60L368.37 314.60L368.56 314.60L368.74 314.60L368.92 314.60L369.10 314.60L369.28 314.60L369.47 314.60L369.65 314.60L369.83 314.60L370.01 314.60L370.19 314.60L370.38 314.59L370.56 314.59L370.74 314.59L370.92 314.59L371.11 314.59L371.29 314.59L371.47 314.59L371.65 314.59L371.83 314.59L372.02 314.58L372.20 314.58L372.38 314.58L372.56 314.57L372.74 314.54L372.93 314.49L373.11 314.39L373.29 314.24L373.47 314.08L373.66 314.00L373.66 314.00L373.84 314.08L374.02 314.24L374.20 314.39L374.38 314.49L374.57 314.54L374.75 314.57L374.93 314.58L375.11 314.58L375.29 314.59L375.48 314.59L375.66 314.59L375.84 314.59L376.02 314.59L376.21 314.59L376.39 314.59L376.57 314.59L376.75 314.59L376.93 314.60L377.12 314.60L377.30 314.60L377.48 314.60L377.66 314.60L377.84 314.60L378.03 314.60L378.21 314.60L378.39 314.60L378.57 314.60L378.76 314.60L378.94 314.60L379.12 314.60L379.30 314.60L379.48 314.60L379.67 314.60L379.85 314.60L380.03 314.60L380.21 314.60L380.39 314.60L380.58 314.60L380.76 314.60L380.94 314.60L381.12 314.60L381.31 314.60L381.49 314.60L381.67 314.60L381.85 314.60L382.03 314.60L382.22 314.60L382.40 314.60L382.58 314.60L382.76 314.60L382.94 314.60L383.13 314.60L383.31 314.60L383.49 314.60L383.67 314.60L383.86 314.60L384.04 314.60L384.22 314.60L384.40 314.60L384.58 314.60L384.77 314.60L384.95 314.60L385.13 314.60L385.31 314.60L385.49 314.60L385.68 314.60L385.86 314.60L386.04 314.60L386.22 314.60L386.41 314.60L386.59 314.60L386.77 314.60L386.95 314.60L387.13 314.60L387.32 314.60L387.50 314.60L387.68 314.60L387.86 314.60L388.04 314.60L388.23 314.60L388.41 314.60L388.59 314.60L388.77 314.60L388.96 314.60L389.14 314.60L389.32 314.60L389.50 314.60L389.68 314.60L389.87 314.60L390.05 314.60L390.23 314.60L390.41 314.60L390.59 314.60L390.78 314.60L390.96 314.60L391.14 314.60L391.32 314.60L391.51 314.60L391.69 314.60L391.87 314.60L392.05 314.60L392.23 314.60L392.42 314.60L392.60 314.60L392.78 314.60L392.96 314.60L393.14 314.60L393.33 314.60L393.51 314.60L393.69 314.60L393.87 314.60L394.05 314.60L394.24 314.60L394.42 314.60L394.60 314.60L394.78 314.60L394.97 314.60L395.15 314.60L395.33 314.60L395.51 314.60L395.69 314.60L395.88 314.60L396.06 314.60L396.24 314.60L396.42 314.60L396.60 314.60L396.79 314.60L396.97 314.60L397.15 314.60L397.33 314.60L397.52 314.60L397.70 314.60L397.88 314.60L398.06 314.60L398.24 314.60L398.43 314.60L398.61 314.60L398.79 314.60L398.97 314.60L399.15 314.60L399.34 314.60L399.52 314.60L399.70 314.60L399.88 314.60L400.07 314.60L400.25 314.60L400.43 314.60L400.61 314.60L400.79 314.60L400.98 314.60L401.16 314.60L401.34 314.60L401.52 314.60L401.70 314.60L401.89 314.60L402.07 314.60L402.25 314.60L402.43 314.60L402.62 314.60L402.80 314.60L402.98 314.60L403.16 314.60L403.34 314.60L403.53 314.60L403.71 314.60L403.89 314.60L404.07 314.60L404.25 314.60L404.44 314.60L404.62 314.60L404.80 314.60L404.98 314.60L405.17 314.60L405.35 314.60L405.53 314.60L405.71 314.60L405.89 314.60L406.08 314.60L406.26 314.60L406.44 314.60L406.62 314.60L406.80 314.60L406.99 314.60L407.17 314.60L407.35 314.60L407.53 314.60L407.72 314.60L407.90 314.60L408.08 314.60L408.26 314.60L408.44 314.59L408.63 314.59L408.81 314.59L408.99 314.59L409.17 314.59L409.35 314.59L409.54 314.59L409.72 314.59L409.90 314.59L410.08 314.58L410.27 314.58L410.45 314.58L410.63 314.57L410.81 314.56L410.99 314.52L411.18 314.45L411.36 314.32L411.54 314.12L411.72 313.90L411.90 313.80L411.90 313.80L412.09 313.90L412.27 314.12L412.45 314.32L412.63 314.45L412.82 314.52L413.00 314.56L413.18 314.57L413.36 314.58L413.54 314.58L413.73 314.58L413.91 314.59L414.09 314.59L414.27 314.59L414.45 314.59L414.64 314.59L414.82 314.59L415.00 314.59L415.18 314.59L415.37 314.59L415.55 314.60L415.73 314.60L415.91 314.60L416.09 314.60L416.28 314.60L416.46 314.60L416.64 314.60L416.82 314.60L417.00 314.60L417.19 314.60L417.37 314.60L417.55 314.60L417.73 314.60L417.92 314.60L418.10 314.60L418.28 314.60L418.46 314.60L418.64 314.60L418.83 314.60L419.01 314.60L419.19 314.60L419.37 314.60L419.55 314.60L419.74 314.60L419.92 314.60L420.10 314.60L420.28 314.60L420.47 314.60L420.65 314.60L420.83 314.60L421.01 314.60L421.19 314.60L421.38 314.60L421.56 314.60L421.74 314.60L421.92 314.60L422.10 314.60L422.29 314.60L422.47 314.60L422.65 314.60L422.83 314.60L423.02 314.60L423.20 314.60L423.38 314.60L423.56 314.60L423.74 314.60L423.93 314.60L424.11 314.60L424.29 314.60L424.47 314.60L424.65 314.60L424.84 314.60L425.02 314.60L425.20 314.60L425.38 314.60L425.57 314.60L425.75 314.60L425.93 314.60L426.11 314.60L426.29 314.60L426.48 314.60L426.66 314.60L426.84 314.60L427.02 314.60L427.20 314.60L427.39 314.60L427.57 314.60L427.75 314.60L427.93 314.60L428.12 314.60L428.30 314.60L428.48 314.60L428.66 314.60L428.84 314.60L429.03 314.60L429.21 314.60L429.39 314.60L429.57 314.60L429.75 314.60L429.94 314.60L430.12 314.60L430.30 314.60L430.48 314.60L430.67 314.60L430.85 314.60L431.03 314.60L431.21 314.60L431.39 314.60L431.58 314.60L431.76 314.60L431.94 314.60L432.12 314.60L432.30 314.60L432.49 314.60L432.67 314.60L432.85 314.60L433.03 314.60L433.22 314.60L433.40 314.60L433.58 314.60L433.76 314.60L433.94 314.60L434.13 314.60L434.31 314.60L434.49 314.60L434.67 314.60L434.85 314.60L435.04 314.60L435.22 314.60L435.40 314.60L435.58 314.60L435.77 314.60L435.95 314.60L436.13 314.60L436.31 314.60L436.49 314.60L436.68 314.60L436.86 314.60L437.04 314.60L437.22 314.60L437.40 314.60L437.59 314.60L437.77 314.60L437.95 314.60L438.13 314.60L438.32 314.60L438.50 314.60L438.68 314.60L438.86 314.60L439.04 314.60L439.23 314.60L439.41 314.60L439.59 314.60L439.77 314.60L439.95 314.60L440.14 314.60L440.32 314.60L440.50 314.60L440.68 314.60L440.86 314.60L441.05 314.60L441.23 314.60L441.41 314.60L441.59 314.60L441.78 314.60L441.96 314.60L442.14 314.60L442.32 314.60L442.50 314.60L442.69 314.60L442.87 314.60L443.05 314.60L443.23 314.60L443.41 314.60L443.60 314.60L443.78 314.60L443.96 314.60L444.14 314.60L444.33 314.60L444.51 314.60L444.69 314.60L444.87 314.60L445.05 314.60L445.24 314.60L445.42 314.60L445.60 314.60L445.78 314.60L445.96 314.60L446.15 314.60L446.33 314.60L446.51 314.60L446.69 314.60L446.88 314.60L447.06 314.60L447.24 314.60L447.42 314.60L447.60 314.60L447.79 314.60L447.97 314.60L448.15 314.60L448.33 314.60L448.51 314.60L448.70 314.60L448.88 314.60L449.06 314.60L449.24 314.60L449.43 314.60L449.61 314.60L449.79 314.60L449.97 314.60L450.15 314.60L450.34 314.60L450.52 314.60L450.70 314.60L450.88 314.60L451.06 314.60L451.25 314.60L451.43 314.60L451.61 314.60L451.79 314.60L451.98 314.60L452.16 314.60L452.34 314.60L452.52 314.60L452.70 314.60L452.89 314.60L453.07 314.60L453.25 314.60L453.43 314.60L453.61 314.60L453.80 314.60L453.98 314.60L454.16 314.60L454.34 314.60L454.53 314.60L454.71 314.60L454.89 314.60L455.07 314.60L455.25 314.60L455.44 314.60L455.62 314.60L455.80 314.60L455.98 314.60L456.16 314.60L456.35 314.60L456.53 314.60L456.71 314.60L456.89 314.60L457.08 314.60L457.26 314.60L457.44 314.60L457.62 314.60L457.80 314.60L457.99 314.60L458.17 314.60L458.35 314.60L458.53 314.60L458.71 314.60L458.90 314.60L459.08 314.60L459.26 314.60L459.44 314.60L459.63 314.60L459.81 314.60L459.99 314.60L460.17 314.60L460.35 314.60L460.54 314.60L460.72 314.60L460.90 314.60L461.08 314.60L461.26 314.60L461.45 314.60L461.63 314.60L461.81 314.60L461.99 314.60L462.18 314.60L462.36 314.60L462.54 314.60L462.72 314.60L462.90 314.60L463.09 314.60L463.27 314.60L463.45 314.60L463.63 314.60L463.81 314.60L464.00 314.60L464.18 314.60L464.36 314.60L464.54 314.60L464.73 314.60L464.91 314.60L465.09 314.60L465.27 314.60L465.45 314.60L465.64 314.60L465.82 314.60L466.00 314.60L466.18 314.60L466.36 314.60L466.55 314.60L466.73 314.60L466.91 314.60L467.09 314.60L467.28 314.60L467.46 314.60L467.64 314.60L467.82 314.60L468.00 314.60L468.19 314.60L468.37 314.60L468.55 314.60L468.73 314.60L468.91 314.60L469.10 314.60L469.28 314.60L469.46 314.60L469.64 314.60L469.83 314.60L470.01 314.60L470.19 314.60L470.37 314.60L470.55 314.60L470.74 314.60L470.92 314.60L471.10 314.60L471.28 314.60L471.46 314.60L471.65 314.60L471.83 314.60L472.01 314.60L472.19 314.60L472.38 314.60L472.56 314.60L472.74 314.60L472.92 314.60L473.10 314.60L473.29 314.60L473.47 314.60L473.65 314.60L473.83 314.60L474.01 314.60L474.20 314.60L474.38 314.60L474.56 314.60L474.74 314.60L474.93 314.60L475.11 314.60L475.29 314.60L475.47 314.60L475.65 314.60L475.84 314.60L476.02 314.60L476.20 314.60L476.38 314.60L476.56 314.60L476.75 314.60L476.93 314.60L477.11 314.60L477.29 314.60L477.48 314.60L477.66 314.60L477.84 314.60L478.02 314.60L478.20 314.60L478.39 314.60L478.57 314.60L478.75 314.60L478.93 314.60L479.11 314.60L479.30 314.60L479.48 314.60L479.66 314.60L479.84 314.60L480.03 314.60L480.21 314.60L480.39 314.60L480.57 314.60L480.75 314.60L480.94 314.60L481.12 314.60L481.30 314.60L481.48 314.60L481.66 314.60L481.85 314.60L482.03 314.60L482.21 314.60L482.39 314.60L482.58 314.60L482.76 314.60L482.94 314.60L483.12 314.60L483.30 314.60L483.49 314.60L483.67 314.60L483.85 314.60L484.03 314.60L484.21 314.60L484.40 314.60L484.58 314.60L484.76 314.60L484.94 314.60L485.12 314.60L485.31 314.60L485.49 314.60L485.67 314.60L485.85 314.60L486.04 314.60L486.22 314.60L486.40 314.60L486.58 314.60L486.76 314.60L486.95 314.60L487.13 314.60L487.31 314.60L487.49 314.60L487.67 314.60L487.86 314.60L488.04 314.60L488.22 314.60L488.40 314.60L488.59 314.60L488.77 314.60L488.95 314.60L489.13 314.60L489.31 314.60L489.50 314.60L489.68 314.60L489.86 314.60L490.04 314.60L490.22 314.60L490.41 314.60L490.59 314.60L490.77 314.60L490.95 314.60L491.14 314.60L491.32 314.60L491.50 314.60L491.68 314.60L491.86 314.60L492.05 314.60L492.23 314.60L492.41 314.60L492.59 314.60L492.77 314.60L492.96 314.60L493.14 314.60L493.32 314.60L493.50 314.60L493.69 314.60L493.87 314.59L494.05 314.59L494.23 314.59L494.41 314.59L494.60 314.59L494.78 314.59L494.96 314.59L495.14 314.58L495.32 314.58L495.51 314.57L495.69 314.54L495.87 314.49L496.05 314.39L496.24 314.24L496.42 314.08L496.60 314.00L496.60 314.00L496.78 314.08L496.96 314.24L497.15 314.39L497.33 314.49L497.51 314.54L497.69 314.57L497.87 314.58L498.06 314.58L498.24 314.59L498.42 314.59L498.60 314.59L498.79 314.59L498.97 314.59L499.15 314.59L499.33 314.59L499.51 314.60L499.70 314.60L499.88 314.60L500.06 314.60L500.24 314.60L500.42 314.60L500.61 314.60L500.79 314.60L500.97 314.60L501.15 314.60L501.34 314.60L501.52 314.60L501.70 314.60L501.88 314.60L502.06 314.60L502.25 314.60L502.43 314.60L502.61 314.60L502.79 314.60L502.97 314.60L503.16 314.60L503.34 314.60L503.52 314.60L503.70 314.60L503.89 314.60L504.07 314.60L504.25 314.60L504.43 314.60L504.61 314.60L504.80 314.60L504.98 314.60L505.16 314.60L505.34 314.60L505.52 314.60L505.71 314.60L505.89 314.60L506.07 314.60L506.25 314.60L506.44 314.60L506.62 314.60L506.80 314.60L506.98 314.60L507.16 314.60L507.35 314.60L507.53 314.60L507.71 314.60L507.89 314.60L508.07 314.60L508.26 314.60L508.44 314.60L508.62 314.60L508.80 314.60L508.99 314.60L509.17 314.60L509.35 314.60L509.53 314.60L509.71 314.60L509.90 314.60L510.08 314.60L510.26 314.60L510.44 314.60L510.62 314.60L510.81 314.60L510.99 314.60L511.17 314.60L511.35 314.60L511.54 314.60L511.72 314.60L511.90 314.60L512.08 314.60L512.26 314.60L512.45 314.60L512.63 314.60L512.81 314.60L512.99 314.60L513.17 314.60L513.36 314.60L513.54 314.60L513.72 314.60L513.90 314.60L514.09 314.60L514.27 314.60L514.45 314.60L514.63 314.60L514.81 314.60L515.00 314.60L515.18 314.60L515.36 314.60L515.54 314.60L515.72 314.60L515.91 314.60L516.09 314.60L516.27 314.60L516.45 314.60L516.64 314.60L516.82 314.60L517.00 314.60L517.18 314.60L517.36 314.60L517.55 314.60L517.73 314.60L517.91 314.60L518.09 314.60L518.27 314.60L518.46 314.60L518.64 314.60L518.82 314.60L519.00 314.60L519.19 314.60L519.37 314.60L519.55 314.60L519.73 314.60L519.91 314.60L520.10 314.60L520.28 314.60L520.46 314.60L520.64 314.60L520.82 314.60L521.01 314.60L521.19 314.60L521.37 314.60L521.55 314.60L521.74 314.60L521.92 314.60L522.10 314.60L522.28 314.60L522.46 314.60L522.65 314.60L522.83 314.60L523.01 314.60L523.19 314.60L523.37 314.60L523.56 314.60L523.74 314.60L523.92 314.60L524.10 314.60L524.29 314.60L524.47 314.60L524.65 314.60L524.83 314.60L525.01 314.60L525.20 314.60L525.38 314.60L525.56 314.60L525.74 314.60L525.92 314.60L526.11 314.60L526.29 314.60L526.47 314.60L526.65 314.60L526.84 314.60L527.02 314.60L527.20 314.60L527.38 314.60L527.56 314.60L527.75 314.60L527.93 314.60L528.11 314.60L528.29 314.60L528.47 314.60L528.66 314.60L528.84 314.60L529.02 314.60L529.20 314.60L529.39 314.60L529.57 314.60L529.75 314.60L529.93 314.60L530.11 314.60L530.30 314.60L530.48 314.60L530.66 314.60L530.84 314.60L531.02 314.60L531.21 314.60L531.39 314.60L531.57 314.60L531.75 314.60L531.93 314.60L532.12 314.60L532.30 314.60L532.48 314.60L532.66 314.60L532.85 314.60L533.03 314.60L533.21 314.60L533.39 314.60L533.57 314.60L533.76 314.60L533.94 314.60L534.12 314.60L534.30 314.60L534.48 314.60L534.67 314.60L534.85 314.60L535.03 314.60L535.21 314.60L535.40 314.60L535.58 314.60L535.76 314.60L535.94 314.60L536.12 314.60L536.31 314.60L536.49 314.60L536.67 314.60L536.85 314.60L537.03 314.60L537.22 314.60L537.40 314.60L537.58 314.60L537.76 314.60L537.95 314.60L538.13 314.60L538.31 314.60L538.49 314.60L538.67 314.60L538.86 314.60L539.04 314.60L539.22 314.60L539.40 314.60L539.58 314.60L539.77 314.60L539.95 314.60L540.13 314.60L540.31 314.60L540.50 314.60L540.68 314.60L540.86 314.60L541.04 314.60L541.22 314.60L541.41 314.60L541.59 314.60L541.77 314.60L541.95 314.60L542.13 314.60L542.32 314.60L542.50 314.60L542.68 314.60L542.86 314.60L543.05 314.60L543.23 314.60L543.41 314.60L543.59 314.60L543.77 314.60L543.96 314.60L544.14 314.60L544.32 314.60L544.50 314.60L544.68 314.60L544.87 314.60L545.05 314.60L545.23 314.60L545.41 314.60L545.60 314.60L545.78 314.60L545.96 314.60L546.14 314.60L546.32 314.60L546.51 314.60L546.69 314.60L546.87 314.60L547.05 314.60L547.23 314.60L547.42 314.60L547.60 314.60L547.78 314.60L547.96 314.60L548.15 314.60L548.33 314.60L548.51 314.60L548.69 314.60L548.87 314.60L549.06 314.60L549.24 314.60L549.42 314.60L549.60 314.60L549.78 314.60L549.97 314.60L550.15 314.60L550.33 314.60L550.51 314.60L550.70 314.60L550.88 314.60L551.06 314.60L551.24 314.60L551.42 314.60L551.61 314.60L551.79 314.60L551.97 314.60L552.15 314.60L552.33 314.60L552.52 314.60L552.70 314.60L552.88 314.60L553.06 314.60L553.25 314.60L553.43 314.60L553.61 314.60L553.79 314.60L553.97 314.60L554.16 314.60L554.34 314.60L554.52 314.60L554.70 314.60L554.88 314.60L555.07 314.60L555.25 314.60L555.43 314.60L555.61 314.60L555.80 314.60L555.98 314.60L556.16 314.60L556.34 314.60L556.52 314.60L556.71 314.60L556.89 314.60L557.07 314.60L557.25 314.60L557.43 314.60L557.62 314.60L557.80 314.60L557.98 314.60L558.16 314.60L558.35 314.60L558.53 314.60L558.71 314.60L558.89 314.60L559.07 314.60L559.26 314.60L559.44 314.60L559.62 314.60L559.80 314.60L559.98 314.60L560.17 314.60L560.35 314.60L560.53 314.60L560.71 314.60L560.90 314.60L561.08 314.60L561.26 314.60L561.44 314.60L561.62 314.60L561.81 314.60L561.99 314.60L562.17 314.60L562.35 314.60L562.53 314.60L562.72 314.60L562.90 314.60L563.08 314.60L563.26 314.60L563.45 314.60L563.63 314.60L563.81 314.60L563.99 314.60L564.17 314.60L564.36 314.60L564.54 314.60L564.72 314.60L564.90 314.60L565.08 314.60L565.27 314.60L565.45 314.60L565.63 314.60L565.81 314.60L566.00 314.60L566.18 314.60L566.36 314.60L566.54 314.60L566.72 314.60L566.91 314.60L567.09 314.60L567.27 314.60L567.45 314.60L567.63 314.60L567.82 314.60L568.00 314.60L568.18 314.60L568.36 314.60L568.55 314.60L568.73 314.60L568.91 314.60L569.09 314.60L569.27 314.60L569.46 314.60L569.64 314.60L569.82 314.60L570.00 314.60L570.18 314.60L570.37 314.60L570.55 314.60L570.73 314.60L570.91 314.60L571.10 314.60L571.28 314.60L571.46 314.60L571.64 314.60L571.82 314.60L572.01 314.60L572.19 314.60L572.37 314.60L572.55 314.60L572.73 314.60L572.92 314.60L573.10 314.60L573.28 314.60L573.46 314.60L573.65 314.60L573.83 314.60L574.01 314.60L574.19 314.60L574.37 314.60L574.56 314.60L574.74 314.60L574.92 314.60L575.10 314.60L575.28 314.60L575.47 314.60L575.65 314.60L575.83 314.60L576.01 314.60L576.19 314.60L576.38 314.60L576.56 314.60L576.74 314.60L576.92 314.60L577.11 314.60L577.29 314.60L577.47 314.60L577.65 314.60L577.83 314.60L578.02 314.60L578.20 314.60L578.38 314.60L578.56 314.60L578.74 314.60L578.93 314.60L579.11 314.60L579.29 314.60L579.47 314.60L579.66 314.60L579.84 314.60L580.02 314.60L580.20 314.60L580.38 314.60L580.57 314.60L580.75 314.60L580.93 314.60L581.11 314.60L581.29 314.60L581.48 314.60L581.66 314.60L581.84 314.60L582.02 314.60L582.21 314.60L582.39 314.60L582.57 314.60L582.75 314.60L582.93 314.60L583.12 314.60L583.30 314.60L583.48 314.60L583.66 314.60L583.84 314.60L584.03 314.60L584.21 314.60L584.39 314.60L584.57 314.60L584.76 314.60L584.94 314.60L585.12 314.60L585.30 314.60L585.48 314.60L585.67 314.60L585.85 314.60L586.03 314.60L586.21 314.60L586.39 314.60L586.58 314.60L586.76 314.60L586.94 314.60L587.12 314.60L587.31 314.60L587.49 314.60L587.67 314.60L587.85 314.60L588.03 314.60L588.22 314.60L588.40 314.60L588.58 314.60L588.76 314.60L588.94 314.60L589.13 314.60L589.31 314.60L589.49 314.60L589.67 314.60L589.86 314.60L590.04 314.60L590.22 314.60L590.40 314.60L590.58 314.60L590.77 314.60L590.95 314.60L591.13 314.60L591.31 314.60L591.49 314.60L591.68 314.60L591.86 314.60L592.04 314.60L592.22 314.60L592.41 314.60L592.59 314.60L592.77 314.60L592.95 314.60L593.13 314.60L593.32 314.60L593.50 314.60L593.68 314.60L593.86 314.60L594.04 314.60L594.23 314.60L594.41 314.60L594.59 314.60L594.77 314.60L594.96 314.60L595.14 314.60L595.32 314.60L595.50 314.60L595.68 314.60L595.87 314.60L596.05 314.60L596.23 314.60L596.41 314.60L596.59 314.60L596.78 314.60L596.96 314.60L597.14 314.60L597.32 314.60L597.51 314.60L597.69 314.60L597.87 314.60L598.05 314.60L598.23 314.60L598.42 314.60L598.60 314.60L598.78 314.60L598.96 314.60L599.14 314.60L599.33 314.60L599.51 314.60L599.69 314.60L599.87 314.60L600.06 314.60L600.24 314.60L600.42 314.60L600.60 314.60L600.78 314.60L600.97 314.60L601.15 314.60L601.33 314.60L601.51 314.60L601.69 314.60L601.88 314.60L602.06 314.60L602.24 314.60L602.42 314.60L602.61 314.60L602.79 314.60L602.97 314.60L603.15 314.60L603.33 314.60L603.52 314.60L603.70 314.60L603.88 314.60L604.06 314.60L604.24 314.60L604.43 314.60L604.61 314.60L604.79 314.60L604.97 314.60L605.16 314.60L605.34 314.60L605.52 314.60L605.70 314.60L605.88 314.60L606.07 314.60L606.25 314.60L606.43 314.60L606.61 314.60L606.79 314.60L606.98 314.60L607.16 314.60L607.34 314.60L607.52 314.60L607.71 314.60L607.89 314.60L608.07 314.60L608.25 314.60L608.43 314.60L608.62 314.60L608.80 314.60L608.98 314.60L609.16 314.60L609.34 314.60L609.53 314.60L609.71 314.60L609.89 314.60L610.07 314.60L610.26 314.60L610.44 314.60L610.62 314.60L610.80 314.60L610.98 314.60L611.17 314.60L611.35 314.60L611.53 314.60L611.71 314.60L611.89 314.60L612.08 314.60L612.26 314.60L612.44 314.60L612.62 314.60L612.81 314.60L612.99 314.60L613.17 314.60L613.35 314.60L613.53 314.60L613.72 314.60L613.90 314.60L614.08 314.60L614.26 314.60L614.44 314.60L614.63 314.60L614.81 314.60L614.99 314.60L615.17 314.60L615.36 314.60L615.54 314.60L615.72 314.60L615.90 314.60L616.08 314.60L616.27 314.60L616.45 314.60L616.63 314.60L616.81 314.60L616.99 314.60L617.18 314.60L617.36 314.60L617.54 314.60L617.72 314.60L617.91 314.60L618.09 314.60L618.27 314.60L618.45 314.60L618.63 314.60L618.82 314.60L619.00 314.60L619.18 314.60L619.36 314.60L619.54 314.60L619.73 314.60L619.91 314.60L620.09 314.60L620.27 314.60L620.46 314.60L620.64 314.60L620.82 314.60L621.00 314.60L621.18 314.60L621.37 314.60L621.55 314.60L621.73 314.60L621.91 314.60L622.09 314.60L622.28 314.60L622.46 314.60L622.64 314.60L622.82 314.60L623.00 314.60L623.19 314.60L623.37 314.60L623.55 314.60L623.73 314.60L623.92 314.60L624.10 314.60L624.28 314.60L624.46 314.60L624.64 314.60L624.83 314.60L625.01 314.60L625.19 314.60L625.37 314.60L625.55 314.60L625.74 314.60L625.92 314.60L626.10 314.60L626.28 314.60L626.47 314.60L626.65 314.60L626.83 314.60L627.01 314.60L627.19 314.60L627.38 314.60L627.56 314.60L627.74 314.60L627.92 314.60L628.10 314.60L628.29 314.60L628.47 314.60L628.65 314.60L628.83 314.60L629.02 314.60L629.20 314.60L629.38 314.60L629.56 314.60L629.74 314.60L629.93 314.60L630.11 314.60L630.29 314.60L630.47 314.60L630.65 314.60L630.84 314.60L631.02 314.60L631.20 314.60L631.38 314.60L631.57 314.60L631.75 314.60L631.93 314.60L632.11 314.60L632.29 314.60L632.48 314.60L632.66 314.60L632.84 314.60L633.02 314.60L633.20 314.60L633.39 314.60L633.57 314.60L633.75 314.60L633.93 314.60L634.12 314.60L634.30 314.60L634.48 314.60L634.66 314.60L634.84 314.60L635.03 314.60L635.21 314.60L635.39 314.60L635.57 314.60L635.75 314.60L635.94 314.60L636.12 314.60L636.30 314.60L636.48 314.60L636.67 314.60L636.85 314.60L637.03 314.60L637.21 314.60L637.39 314.60L637.58 314.60L637.76 314.60L637.94 314.60L638.12 314.60L638.30 314.60L638.49 314.60L638.67 314.60L638.85 314.60L639.03 314.60L639.22 314.60L639.40 314.60L639.58 314.60L639.76 314.60L639.94 314.60L640.13 314.60L640.31 314.60L640.49 314.60L640.67 314.60L640.85 314.60L641.04 314.60L641.22 314.60L641.40 314.60L641.58 314.60L641.77 314.60L641.95 314.60L642.13 314.60L642.31 314.60L642.49 314.60L642.68 314.60L642.86 314.60L643.04 314.60L643.22 314.60L643.40 314.60L643.59 314.60L643.77 314.60L643.95 314.60L644.13 314.60L644.32 314.60L644.50 314.60L644.68 314.60L644.86 314.60L645.04 314.60L645.23 314.60L645.41 314.60L645.59 314.60L645.77 314.60L645.95 314.60L646.14 314.60L646.32 314.60L646.50 314.60L646.68 314.60L646.87 314.60L647.05 314.60L647.23 314.60L647.41 314.60L647.59 314.60L647.78 314.60L647.96 314.60L648.14 314.60L648.32 314.60L648.50 314.60L648.69 314.60L648.87 314.60L649.05 314.60L649.23 314.60L649.42 314.60L649.60 314.60L649.78 314.60L649.96 314.60L650.14 314.60L650.33 314.60L650.51 314.60L650.69 314.60L650.87 314.60L651.05 314.60L651.24 314.60L651.42 314.60L651.60 314.60L651.78 314.60L651.97 314.60L652.15 314.60L652.33 314.60L652.51 314.60L652.69 314.60L652.88 314.60L653.06 314.60L653.24 314.60L653.42 314.60L653.60 314.60L653.79 314.60L653.97 314.60L654.15 314.60L654.33 314.60L654.52 314.60L654.70 314.60L654.88 314.60L655.06 314.60L655.24 314.60L655.43 314.60L655.61 314.60L655.79 314.60L655.97 314.60L656.15 314.60L656.34 314.60L656.52 314.60L656.70 314.60L656.88 314.60" fill="none" stroke="#d8181c" stroke-width="1.6" stroke-linejoin="round"/>
<path d="M349.40 6.20H497.90V117.30" fill="none" stroke="#6e6e6e" stroke-width="1.1"/>
<path d="M349.40 6.20V117.30H497.90" fill="none" stroke="#333" stroke-width="1.1"/>
<path class="itk" d="M349.50 117.30V119.70M364.35 117.30V118.90M379.20 117.30V119.70M394.05 117.30V118.90M408.90 117.30V119.70M423.75 117.30V118.90M438.60 117.30V119.70M453.45 117.30V118.90M468.30 117.30V119.70M483.15 117.30V118.90M498.00 117.30V119.70M347.20 21.10H349.40M347.20 52.30H349.40M347.20 83.30H349.40M347.20 114.30H349.40"/>
<g transform="translate(349.80 128.90) scale(1.000 1)"><text x="-3.169" y="0" font-size="11.40" font-weight="bold">5</text></g>
<g transform="translate(379.50 128.90) scale(1.000 1)"><text x="-3.169" y="0" font-size="11.40" font-weight="bold">6</text></g>
<g transform="translate(409.20 128.90) scale(1.000 1)"><text x="-3.169" y="0" font-size="11.40" font-weight="bold">7</text></g>
<g transform="translate(438.90 128.90) scale(1.000 1)"><text x="-3.169" y="0" font-size="11.40" font-weight="bold">8</text></g>
<g transform="translate(468.60 128.90) scale(1.000 1)"><text x="-3.169" y="0" font-size="11.40" font-weight="bold">9</text></g>
<g transform="translate(498.30 128.90) scale(1.000 1)"><path d="M478 0V1170L140 959V1180L493 1409H759V0Z" transform="translate(-6.338 0) scale(0.00557 -0.00557)"/><text x="0.000" y="0" font-size="11.40" font-weight="bold">0</text></g>
<path d="M349.50 114.14L349.80 114.13L350.09 114.13L350.39 114.12L350.69 114.12L350.98 114.11L351.28 114.10L351.58 114.10L351.88 114.09L352.17 114.08L352.47 114.07L352.77 114.07L353.06 114.06L353.36 114.05L353.66 114.04L353.95 114.03L354.25 114.02L354.55 114.00L354.85 113.99L355.14 113.98L355.44 113.96L355.74 113.95L356.03 113.93L356.33 113.91L356.63 113.89L356.92 113.87L357.22 113.84L357.52 113.82L357.82 113.79L358.11 113.76L358.41 113.72L358.71 113.69L359.00 113.64L359.30 113.60L359.60 113.54L359.89 113.49L360.19 113.42L360.49 113.34L360.79 113.26L361.08 113.16L361.38 113.04L361.68 112.90L361.97 112.73L362.27 112.53L362.57 112.26L362.86 111.87L363.16 111.29L363.46 110.35L363.76 108.83L364.05 106.39L364.35 102.66L364.65 97.29L364.94 90.15L365.24 81.43L365.54 71.86L365.83 62.76L366.13 55.97L366.43 53.40L366.43 53.40L366.73 55.92L367.02 62.66L367.32 71.72L367.62 81.23L367.91 89.90L368.21 96.99L368.51 102.30L368.80 105.97L369.10 108.35L369.40 109.80L369.70 110.65L369.99 111.15L370.29 111.44L370.59 111.61L370.88 111.69L371.18 111.72L371.48 111.70L371.77 111.64L372.07 111.52L372.37 111.35L372.67 111.11L372.96 110.75L373.26 110.21L373.56 109.34L373.85 107.91L374.15 105.54L374.45 101.71L374.74 95.82L375.04 87.32L375.34 75.98L375.64 62.14L375.93 46.95L376.23 32.50L376.53 21.74L376.82 17.70L376.82 17.70L377.12 21.77L377.42 32.56L377.71 47.04L378.01 62.26L378.31 76.14L378.61 87.51L378.90 96.04L379.20 101.98L379.50 105.85L379.79 108.26L380.09 109.74L380.39 110.66L380.68 111.26L380.98 111.69L381.28 112.01L381.58 112.26L381.87 112.47L382.17 112.65L382.47 112.81L382.76 112.94L383.06 113.05L383.36 113.16L383.65 113.24L383.95 113.32L384.25 113.39L384.55 113.45L384.84 113.51L385.14 113.56L385.44 113.61L385.73 113.65L386.03 113.69L386.33 113.72L386.62 113.75L386.92 113.78L387.22 113.81L387.52 113.83L387.81 113.85L388.11 113.88L388.41 113.89L388.70 113.91L389.00 113.93L389.30 113.94L389.59 113.96L389.89 113.97L390.19 113.99L390.49 114.00L390.78 114.01L391.08 114.02L391.38 114.03L391.67 114.04L391.97 114.05L392.27 114.06L392.56 114.06L392.86 114.07L393.16 114.08L393.46 114.09L393.75 114.09L394.05 114.10L394.35 114.10L394.64 114.11L394.94 114.11L395.24 114.12L395.53 114.12L395.83 114.13L396.13 114.13L396.43 114.14L396.72 114.14L397.02 114.14L397.32 114.15L397.61 114.15L397.91 114.15L398.21 114.16L398.50 114.16L398.80 114.16L399.10 114.16L399.40 114.16L399.69 114.17L399.99 114.17L400.29 114.17L400.58 114.17L400.88 114.17L401.18 114.18L401.47 114.18L401.77 114.18L402.07 114.18L402.37 114.18L402.66 114.18L402.96 114.18L403.26 114.18L403.55 114.18L403.85 114.18L404.15 114.18L404.44 114.18L404.74 114.18L405.04 114.18L405.34 114.17L405.63 114.17L405.93 114.17L406.23 114.17L406.52 114.16L406.82 114.16L407.12 114.15L407.41 114.15L407.71 114.14L408.01 114.13L408.31 114.12L408.60 114.10L408.90 114.07L409.20 114.03L409.49 113.98L409.79 113.90L410.09 113.79L410.38 113.65L410.68 113.46L410.98 113.23L411.28 112.94L411.57 112.62L411.87 112.26L412.17 111.90L412.46 111.55L412.76 111.26L413.06 111.07L413.35 111.00L413.36 111.00L413.65 111.07L413.95 111.27L414.25 111.56L414.54 111.90L414.84 112.27L415.14 112.63L415.43 112.95L415.73 113.24L416.03 113.47L416.32 113.66L416.62 113.81L416.92 113.91L417.22 113.99L417.51 114.05L417.81 114.09L418.11 114.11L418.40 114.13L418.70 114.15L419.00 114.16L419.29 114.17L419.59 114.18L419.89 114.18L420.19 114.19L420.48 114.19L420.78 114.20L421.08 114.20L421.37 114.20L421.67 114.20L421.97 114.21L422.26 114.21L422.56 114.21L422.86 114.21L423.16 114.21L423.45 114.21L423.75 114.21L424.05 114.21L424.34 114.21L424.64 114.21L424.94 114.20L425.23 114.20L425.53 114.19L425.83 114.18L426.13 114.17L426.42 114.15L426.72 114.13L427.02 114.09L427.31 114.04L427.61 113.97L427.91 113.88L428.20 113.77L428.50 113.63L428.80 113.48L429.10 113.31L429.39 113.13L429.69 112.97L429.99 112.83L430.28 112.73L430.58 112.70L430.58 112.70L430.88 112.73L431.17 112.83L431.47 112.97L431.77 113.14L432.07 113.31L432.36 113.48L432.66 113.64L432.96 113.78L433.25 113.89L433.55 113.98L433.85 114.05L434.14 114.11L434.44 114.14L434.74 114.17L435.04 114.19L435.33 114.20L435.63 114.21L435.93 114.22L436.22 114.23L436.52 114.23L436.82 114.23L437.11 114.24L437.41 114.24L437.71 114.24L438.01 114.24L438.30 114.25L438.60 114.25L438.90 114.25L439.19 114.25L439.49 114.25L439.79 114.25L440.08 114.26L440.38 114.26L440.68 114.26L440.98 114.26L441.27 114.26L441.57 114.26L441.87 114.26L442.16 114.26L442.46 114.26L442.76 114.26L443.05 114.26L443.35 114.26L443.65 114.26L443.95 114.26L444.24 114.26L444.54 114.26L444.84 114.26L445.13 114.26L445.43 114.26L445.73 114.26L446.02 114.26L446.32 114.26L446.62 114.26L446.92 114.26L447.21 114.26L447.51 114.26L447.81 114.26L448.10 114.26L448.40 114.26L448.70 114.26L448.99 114.26L449.29 114.26L449.59 114.26L449.89 114.26L450.18 114.26L450.48 114.26L450.78 114.26L451.07 114.26L451.37 114.26L451.67 114.26L451.96 114.26L452.26 114.26L452.56 114.26L452.86 114.26L453.15 114.26L453.45 114.26L453.75 114.26L454.04 114.25L454.34 114.25L454.64 114.25L454.93 114.25L455.23 114.25L455.53 114.25L455.83 114.25L456.12 114.25L456.42 114.24L456.72 114.24L457.01 114.24L457.31 114.24L457.61 114.23L457.90 114.23L458.20 114.23L458.50 114.23L458.80 114.22L459.09 114.22L459.39 114.21L459.69 114.21L459.98 114.20L460.28 114.20L460.58 114.19L460.87 114.19L461.17 114.18L461.47 114.17L461.77 114.16L462.06 114.15L462.36 114.13L462.66 114.12L462.95 114.10L463.25 114.08L463.55 114.06L463.84 114.03L464.14 114.00L464.44 113.95L464.74 113.89L465.03 113.80L465.33 113.66L465.63 113.43L465.92 113.08L466.22 112.53L466.52 111.73L466.81 110.64L467.11 109.24L467.41 107.60L467.71 105.85L468.00 104.23L468.30 103.04L468.60 102.60L468.60 102.60L468.89 103.04L469.19 104.23L469.49 105.85L469.78 107.60L470.08 109.24L470.38 110.64L470.68 111.74L470.97 112.53L471.27 113.08L471.57 113.43L471.86 113.66L472.16 113.80L472.46 113.89L472.75 113.95L473.05 114.00L473.35 114.03L473.65 114.06L473.94 114.08L474.24 114.10L474.54 114.12L474.83 114.14L475.13 114.15L475.43 114.16L475.72 114.17L476.02 114.18L476.32 114.19L476.62 114.20L476.91 114.20L477.21 114.21L477.51 114.21L477.80 114.22L478.10 114.22L478.40 114.23L478.69 114.23L478.99 114.23L479.29 114.24L479.59 114.24L479.88 114.24L480.18 114.25L480.48 114.25L480.77 114.25L481.07 114.25L481.37 114.25L481.66 114.26L481.96 114.26L482.26 114.26L482.56 114.26L482.85 114.26L483.15 114.26L483.45 114.26L483.74 114.27L484.04 114.27L484.34 114.27L484.63 114.27L484.93 114.27L485.23 114.27L485.53 114.27L485.82 114.27L486.12 114.27L486.42 114.27L486.71 114.27L487.01 114.27L487.31 114.28L487.60 114.28L487.90 114.28L488.20 114.28L488.50 114.28L488.79 114.28L489.09 114.28L489.39 114.28L489.68 114.28L489.98 114.28L490.28 114.28L490.57 114.28L490.87 114.28L491.17 114.28L491.47 114.28L491.76 114.28L492.06 114.28L492.36 114.28L492.65 114.28L492.95 114.28L493.25 114.28L493.54 114.28L493.84 114.28L494.14 114.28L494.44 114.28L494.73 114.28L495.03 114.29L495.33 114.29L495.62 114.29L495.92 114.29L496.22 114.29L496.51 114.29L496.81 114.29L497.11 114.29L497.41 114.29L497.70 114.29L498.00 114.29" fill="none" stroke="#3a3a3a" stroke-width="1" stroke-linejoin="round"/>
<text transform="translate(428.1 139.9) scale(1.07 1)" font-weight="bold" font-size="10.4" text-anchor="middle">2<tspan font-weight="normal">&#952;</tspan> (degree)</text>
<path d="M347.40 165.20H498.20V278.20" fill="none" stroke="#6e6e6e" stroke-width="1.1"/>
<path d="M347.40 165.20V278.20H498.20" fill="none" stroke="#333" stroke-width="1.1"/>
<path class="itk" d="M347.70 278.20V280.60M362.70 278.20V279.80M377.70 278.20V280.60M392.70 278.20V279.80M407.70 278.20V280.60M422.70 278.20V279.80M437.70 278.20V280.60M452.70 278.20V279.80M467.70 278.20V280.60M482.70 278.20V279.80M497.70 278.20V280.60M345.20 180.10H347.40M345.20 211.20H347.40M345.20 242.20H347.40M345.20 273.10H347.40"/>
<g transform="translate(348.00 290.60) scale(1.000 1)"><text x="-3.169" y="0" font-size="11.40" font-weight="bold">5</text></g>
<g transform="translate(378.00 290.60) scale(1.000 1)"><text x="-3.169" y="0" font-size="11.40" font-weight="bold">6</text></g>
<g transform="translate(408.00 290.60) scale(1.000 1)"><text x="-3.169" y="0" font-size="11.40" font-weight="bold">7</text></g>
<g transform="translate(438.00 290.60) scale(1.000 1)"><text x="-3.169" y="0" font-size="11.40" font-weight="bold">8</text></g>
<g transform="translate(468.00 290.60) scale(1.000 1)"><text x="-3.169" y="0" font-size="11.40" font-weight="bold">9</text></g>
<g transform="translate(498.00 290.60) scale(1.000 1)"><path d="M478 0V1170L140 959V1180L493 1409H759V0Z" transform="translate(-6.338 0) scale(0.00557 -0.00557)"/><text x="0.000" y="0" font-size="11.40" font-weight="bold">0</text></g>
<path d="M347.70 271.76L348.00 271.75L348.30 271.73L348.60 271.71L348.90 271.69L349.20 271.67L349.50 271.65L349.80 271.63L350.10 271.60L350.40 271.58L350.70 271.55L351.00 271.52L351.30 271.49L351.60 271.46L351.90 271.42L352.20 271.38L352.50 271.34L352.80 271.30L353.10 271.26L353.40 271.21L353.70 271.15L354.00 271.10L354.30 271.03L354.60 270.97L354.90 270.89L355.20 270.82L355.50 270.73L355.80 270.63L356.10 270.53L356.40 270.41L356.70 270.28L357.00 270.14L357.30 269.98L357.60 269.80L357.90 269.60L358.20 269.37L358.50 269.11L358.80 268.79L359.10 268.42L359.40 267.96L359.70 267.37L360.00 266.60L360.30 265.55L360.60 264.10L360.90 262.09L361.20 259.33L361.50 255.62L361.80 250.79L362.10 244.70L362.40 237.35L362.70 228.92L363.00 219.80L363.30 210.69L363.60 202.63L363.90 196.93L364.20 194.80L364.20 194.80L364.50 196.75L364.80 202.27L365.10 210.13L365.40 219.03L365.70 227.92L366.00 236.07L366.30 243.06L366.60 248.64L366.90 252.67L367.20 255.04L367.50 255.69L367.80 254.73L368.10 252.60L368.40 250.32L368.70 249.50L368.70 249.50L369.00 251.14L369.30 254.38L369.60 257.74L369.90 260.38L370.20 262.01L370.50 262.71L370.80 262.66L371.10 261.98L371.40 260.71L371.70 258.78L372.00 256.04L372.30 252.34L372.60 247.50L372.90 241.40L373.20 234.02L373.50 225.44L373.80 215.92L374.10 205.95L374.40 196.30L374.70 188.00L375.00 182.31L375.30 180.30L375.30 180.30L375.60 182.41L375.90 188.21L376.20 196.60L376.50 206.37L376.80 216.45L377.10 226.09L377.40 234.80L377.70 242.32L378.00 248.57L378.30 253.58L378.60 257.49L378.90 260.45L379.20 262.67L379.50 264.31L379.80 265.53L380.10 266.44L380.40 267.14L380.70 267.69L381.00 268.13L381.30 268.50L381.60 268.82L381.90 269.09L382.20 269.33L382.50 269.54L382.80 269.73L383.10 269.90L383.40 270.05L383.70 270.19L384.00 270.31L384.30 270.42L384.60 270.53L384.90 270.62L385.20 270.71L385.50 270.79L385.80 270.86L386.10 270.93L386.40 270.99L386.70 271.05L387.00 271.10L387.30 271.15L387.60 271.20L387.90 271.24L388.20 271.28L388.50 271.32L388.80 271.35L389.10 271.38L389.40 271.41L389.70 271.44L390.00 271.47L390.30 271.50L390.60 271.52L390.90 271.54L391.20 271.56L391.50 271.58L391.80 271.60L392.10 271.62L392.40 271.64L392.70 271.65L393.00 271.67L393.30 271.68L393.60 271.69L393.90 271.70L394.20 271.71L394.50 271.72L394.80 271.73L395.10 271.74L395.40 271.75L395.70 271.76L396.00 271.77L396.30 271.77L396.60 271.78L396.90 271.78L397.20 271.79L397.50 271.79L397.80 271.79L398.10 271.80L398.40 271.80L398.70 271.80L399.00 271.80L399.30 271.80L399.60 271.80L399.90 271.79L400.20 271.79L400.50 271.79L400.80 271.78L401.10 271.78L401.40 271.77L401.70 271.76L402.00 271.75L402.30 271.74L402.60 271.73L402.90 271.72L403.20 271.70L403.50 271.68L403.80 271.66L404.10 271.64L404.40 271.61L404.70 271.58L405.00 271.55L405.30 271.51L405.60 271.47L405.90 271.41L406.20 271.36L406.50 271.29L406.80 271.21L407.10 271.11L407.40 270.99L407.70 270.84L408.00 270.63L408.30 270.35L408.60 269.93L408.90 269.32L409.20 268.42L409.50 267.14L409.80 265.41L410.10 263.21L410.40 260.58L410.70 257.72L411.00 254.97L411.30 252.87L411.60 252.00L411.60 252.00L411.90 252.62L412.20 254.45L412.50 256.88L412.80 259.34L413.10 261.42L413.40 262.88L413.70 263.56L414.00 263.42L414.30 262.44L414.60 260.68L414.90 258.25L415.20 255.32L415.50 252.20L415.80 249.31L416.10 247.23L416.40 246.50L416.40 246.50L416.70 247.38L417.00 249.63L417.30 252.71L417.60 256.06L417.90 259.29L418.20 262.15L418.50 264.52L418.80 266.40L419.10 267.81L419.40 268.83L419.70 269.55L420.00 270.06L420.30 270.42L420.60 270.67L420.90 270.87L421.20 271.02L421.50 271.14L421.80 271.25L422.10 271.33L422.40 271.41L422.70 271.48L423.00 271.53L423.30 271.59L423.60 271.63L423.90 271.67L424.20 271.71L424.50 271.74L424.80 271.77L425.10 271.80L425.40 271.83L425.70 271.85L426.00 271.87L426.30 271.89L426.60 271.91L426.90 271.93L427.20 271.94L427.50 271.95L427.80 271.97L428.10 271.98L428.40 271.99L428.70 272.00L429.00 272.01L429.30 272.02L429.60 272.03L429.90 272.04L430.20 272.05L430.50 272.05L430.80 272.06L431.10 272.07L431.40 272.07L431.70 272.08L432.00 272.09L432.30 272.09L432.60 272.10L432.90 272.10L433.20 272.11L433.50 272.11L433.80 272.12L434.10 272.12L434.40 272.12L434.70 272.13L435.00 272.13L435.30 272.13L435.60 272.14L435.90 272.14L436.20 272.14L436.50 272.15L436.80 272.15L437.10 272.15L437.40 272.15L437.70 272.16L438.00 272.16L438.30 272.16L438.60 272.16L438.90 272.16L439.20 272.17L439.50 272.17L439.80 272.17L440.10 272.17L440.40 272.17L440.70 272.17L441.00 272.18L441.30 272.18L441.60 272.18L441.90 272.18L442.20 272.18L442.50 272.18L442.80 272.18L443.10 272.18L443.40 272.19L443.70 272.19L444.00 272.19L444.30 272.19L444.60 272.19L444.90 272.19L445.20 272.19L445.50 272.19L445.80 272.19L446.10 272.19L446.40 272.19L446.70 272.19L447.00 272.19L447.30 272.19L447.60 272.19L447.90 272.19L448.20 272.19L448.50 272.19L448.80 272.19L449.10 272.19L449.40 272.19L449.70 272.19L450.00 272.19L450.30 272.19L450.60 272.19L450.90 272.19L451.20 272.19L451.50 272.19L451.80 272.19L452.10 272.19L452.40 272.19L452.70 272.19L453.00 272.19L453.30 272.19L453.60 272.18L453.90 272.18L454.20 272.18L454.50 272.18L454.80 272.18L455.10 272.18L455.40 272.17L455.70 272.17L456.00 272.17L456.30 272.16L456.60 272.16L456.90 272.16L457.20 272.15L457.50 272.15L457.80 272.15L458.10 272.14L458.40 272.14L458.70 272.13L459.00 272.12L459.30 272.12L459.60 272.11L459.90 272.10L460.20 272.09L460.50 272.08L460.80 272.07L461.10 272.05L461.40 272.04L461.70 272.02L462.00 272.01L462.30 271.98L462.60 271.96L462.90 271.93L463.20 271.90L463.50 271.87L463.80 271.83L464.10 271.78L464.40 271.72L464.70 271.65L465.00 271.55L465.30 271.42L465.60 271.24L465.90 270.98L466.20 270.61L466.50 270.08L466.80 269.35L467.10 268.37L467.40 267.13L467.70 265.63L468.00 263.94L468.30 262.19L468.60 260.59L468.90 259.43L469.20 259.00L469.20 259.00L469.50 259.43L469.80 260.59L470.10 262.19L470.40 263.94L470.70 265.63L471.00 267.13L471.30 268.37L471.60 269.35L471.90 270.09L472.20 270.62L472.50 270.99L472.80 271.25L473.10 271.43L473.40 271.56L473.70 271.66L474.00 271.73L474.30 271.79L474.60 271.84L474.90 271.88L475.20 271.92L475.50 271.95L475.80 271.97L476.10 272.00L476.40 272.02L476.70 272.04L477.00 272.06L477.30 272.07L477.60 272.08L477.90 272.10L478.20 272.11L478.50 272.12L478.80 272.13L479.10 272.14L479.40 272.14L479.70 272.15L480.00 272.16L480.30 272.16L480.60 272.17L480.90 272.17L481.20 272.18L481.50 272.18L481.80 272.19L482.10 272.19L482.40 272.20L482.70 272.20L483.00 272.20L483.30 272.21L483.60 272.21L483.90 272.21L484.20 272.21L484.50 272.22L484.80 272.22L485.10 272.22L485.40 272.22L485.70 272.23L486.00 272.23L486.30 272.23L486.60 272.23L486.90 272.23L487.20 272.23L487.50 272.24L487.80 272.24L488.10 272.24L488.40 272.24L488.70 272.24L489.00 272.24L489.30 272.24L489.60 272.24L489.90 272.25L490.20 272.25L490.50 272.25L490.80 272.25L491.10 272.25L491.40 272.25L491.70 272.25L492.00 272.25L492.30 272.25L492.60 272.25L492.90 272.25L493.20 272.25L493.50 272.26L493.80 272.26L494.10 272.26L494.40 272.26L494.70 272.26L495.00 272.26L495.30 272.26L495.60 272.26L495.90 272.26L496.20 272.26L496.50 272.26L496.80 272.26L497.10 272.26L497.40 272.26L497.70 272.26" fill="none" stroke="#e04848" stroke-width="1" stroke-linejoin="round"/>
<line x1="368.60" y1="228.60" x2="368.60" y2="239.60" stroke="#e01010" stroke-width="0.9"/><path d="M366.30 238.60L370.90 238.60L368.60 243.60Z" fill="#e01010"/><line x1="411.10" y1="233.00" x2="411.10" y2="243.00" stroke="#e01010" stroke-width="0.9"/><path d="M408.80 242.00L413.40 242.00L411.10 247.00Z" fill="#e01010"/>
<text transform="translate(424.7 303.3) scale(1.055 1)" font-weight="bold" font-size="10.4" text-anchor="middle">2<tspan font-weight="normal">&#952;</tspan> (degree)</text>
<rect x="28.5" y="2.4" width="637.6" height="322.0" class="ax"/>
<g class="tk"><line x1="74.03" y1="324.4" x2="74.03" y2="320.90"/><line x1="119.57" y1="324.4" x2="119.57" y2="317.40"/><line x1="165.10" y1="324.4" x2="165.10" y2="320.90"/><line x1="210.64" y1="324.4" x2="210.64" y2="317.40"/><line x1="256.17" y1="324.4" x2="256.17" y2="320.90"/><line x1="301.71" y1="324.4" x2="301.71" y2="317.40"/><line x1="347.25" y1="324.4" x2="347.25" y2="320.90"/><line x1="392.78" y1="324.4" x2="392.78" y2="317.40"/><line x1="438.31" y1="324.4" x2="438.31" y2="320.90"/><line x1="483.85" y1="324.4" x2="483.85" y2="317.40"/><line x1="529.38" y1="324.4" x2="529.38" y2="320.90"/><line x1="574.92" y1="324.4" x2="574.92" y2="317.40"/><line x1="620.45" y1="324.4" x2="620.45" y2="320.90"/></g>
<g class="tl"><g transform="translate(28.50 340.90) scale(1.040 1)"><text x="-3.725" y="0" font-size="13.40" font-weight="bold">0</text></g><g transform="translate(119.57 340.90) scale(1.040 1)"><path d="M478 0V1170L140 959V1180L493 1409H759V0Z" transform="translate(-7.450 0) scale(0.00654 -0.00654)"/><text x="0.000" y="0" font-size="13.40" font-weight="bold">0</text></g><g transform="translate(210.64 340.90) scale(1.040 1)"><text x="-7.450" y="0" font-size="13.40" font-weight="bold">2</text><text x="0.000" y="0" font-size="13.40" font-weight="bold">0</text></g><g transform="translate(301.71 340.90) scale(1.040 1)"><text x="-7.450" y="0" font-size="13.40" font-weight="bold">3</text><text x="0.000" y="0" font-size="13.40" font-weight="bold">0</text></g><g transform="translate(392.78 340.90) scale(1.040 1)"><text x="-7.450" y="0" font-size="13.40" font-weight="bold">4</text><text x="0.000" y="0" font-size="13.40" font-weight="bold">0</text></g><g transform="translate(483.85 340.90) scale(1.040 1)"><text x="-7.450" y="0" font-size="13.40" font-weight="bold">5</text><text x="0.000" y="0" font-size="13.40" font-weight="bold">0</text></g><g transform="translate(574.92 340.90) scale(1.040 1)"><text x="-7.450" y="0" font-size="13.40" font-weight="bold">6</text><text x="0.000" y="0" font-size="13.40" font-weight="bold">0</text></g><g transform="translate(665.99 340.90) scale(1.040 1)"><text x="-7.450" y="0" font-size="13.40" font-weight="bold">7</text><text x="0.000" y="0" font-size="13.40" font-weight="bold">0</text></g></g>
<text transform="translate(344.8 360.9) scale(1.07 1)" font-weight="bold" font-size="14" text-anchor="middle">2<tspan font-weight="normal">&#952;</tspan> (degree)</text>
<text transform="translate(12.4 163.2) rotate(-90) scale(1.155 1)" font-weight="bold" font-size="12.6" text-anchor="middle">Intensity (a.u.)</text>
<text x="47.2" y="23.2" font-size="18">a</text>
<text x="47.8" y="183" font-size="18">b</text>
</svg>
</body></html>
